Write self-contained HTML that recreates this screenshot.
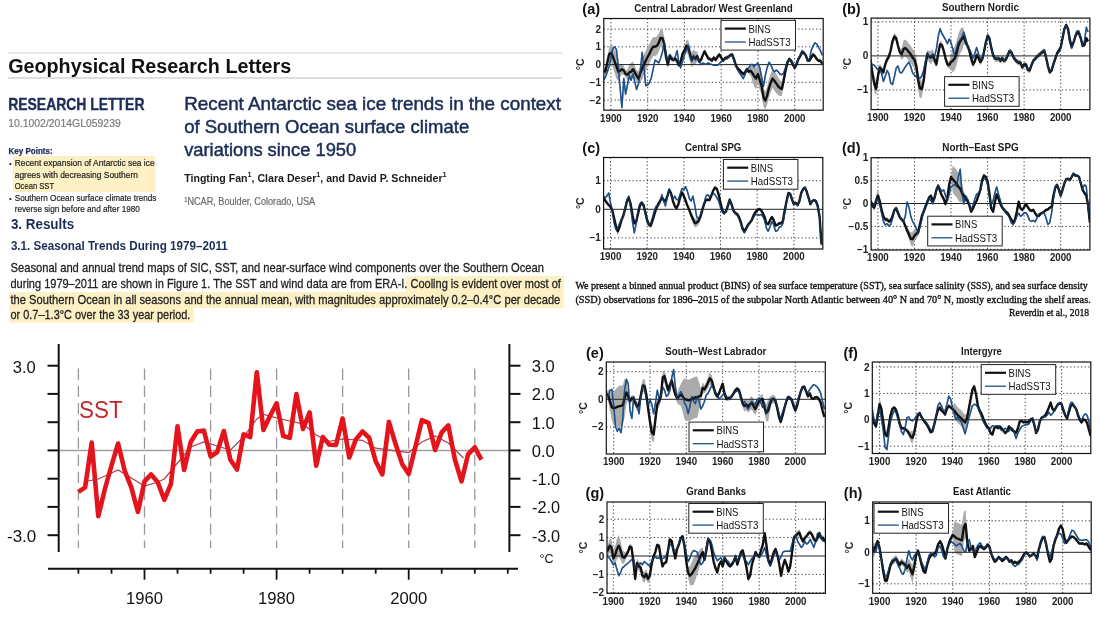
<!DOCTYPE html>
<html><head><meta charset="utf-8"><style>
html,body{margin:0;padding:0;background:#fff;width:1100px;height:628px;overflow:hidden}
svg{display:block;filter:blur(0.4px)}
</style></head><body>
<svg width="1100" height="628" viewBox="0 0 1100 628">
<rect width="1100" height="628" fill="#fff"/>
<line x1="8" y1="53" x2="562" y2="53" stroke="#cfcfcf" stroke-width="1.2"/>
<line x1="8" y1="78" x2="562" y2="78" stroke="#bdbdbd" stroke-width="1.2"/>
<text x="8.2" y="73.3" font-family='"Liberation Sans", sans-serif' font-size="20" font-weight="bold" fill="#111" text-anchor="start" textLength="283.0" lengthAdjust="spacingAndGlyphs" >Geophysical Research Letters</text>
<text x="8.2" y="110.4" font-family='"Liberation Sans", sans-serif' font-size="16.5" font-weight="bold" fill="#1b2d57" text-anchor="start" textLength="136.3" lengthAdjust="spacingAndGlyphs" stroke="#1b2d57" stroke-width="0.35" >RESEARCH LETTER</text>
<text x="8.2" y="127.3" font-family='"Liberation Sans", sans-serif' font-size="11.8" font-weight="normal" fill="#7a7a7a" text-anchor="start" textLength="112.6" lengthAdjust="spacingAndGlyphs" stroke="#7a7a7a" stroke-width="0.2" >10.1002/2014GL059239</text>
<text x="8.5" y="154.2" font-family='"Liberation Sans", sans-serif' font-size="8.5" font-weight="bold" fill="#1b2d57" text-anchor="start" textLength="44.1" lengthAdjust="spacingAndGlyphs" stroke="#1b2d57" stroke-width="0.25" >Key Points:</text>
<rect x="13" y="156" width="142.5" height="36" fill="#fcf0c4"/>
<text x="9.0" y="166.3" font-family='"Liberation Sans", sans-serif' font-size="8" font-weight="normal" fill="#222" text-anchor="start" >•</text>
<text x="14.7" y="166.3" font-family='"Liberation Sans", sans-serif' font-size="9.3" font-weight="normal" fill="#222" text-anchor="start" textLength="139.9" lengthAdjust="spacingAndGlyphs" stroke="#222" stroke-width="0.2" >Recent expansion of Antarctic sea ice</text>
<text x="14.7" y="177.9" font-family='"Liberation Sans", sans-serif' font-size="9.3" font-weight="normal" fill="#222" text-anchor="start" textLength="123.3" lengthAdjust="spacingAndGlyphs" stroke="#222" stroke-width="0.2" >agrees with decreasing Southern</text>
<text x="14.7" y="189.1" font-family='"Liberation Sans", sans-serif' font-size="9.3" font-weight="normal" fill="#222" text-anchor="start" textLength="39.4" lengthAdjust="spacingAndGlyphs" stroke="#222" stroke-width="0.2" >Ocean SST</text>
<text x="9.0" y="200.7" font-family='"Liberation Sans", sans-serif' font-size="8" font-weight="normal" fill="#222" text-anchor="start" >•</text>
<text x="14.7" y="200.7" font-family='"Liberation Sans", sans-serif' font-size="9.3" font-weight="normal" fill="#222" text-anchor="start" textLength="141.7" lengthAdjust="spacingAndGlyphs" stroke="#222" stroke-width="0.2" >Southern Ocean surface climate trends</text>
<text x="14.7" y="211.9" font-family='"Liberation Sans", sans-serif' font-size="9.3" font-weight="normal" fill="#222" text-anchor="start" textLength="125.2" lengthAdjust="spacingAndGlyphs" stroke="#222" stroke-width="0.2" >reverse sign before and after 1980</text>
<text x="10.9" y="229.0" font-family='"Liberation Sans", sans-serif' font-size="14.5" font-weight="bold" fill="#1b2d57" text-anchor="start" textLength="63.3" lengthAdjust="spacingAndGlyphs" >3. Results</text>
<text x="10.9" y="250.0" font-family='"Liberation Sans", sans-serif' font-size="12.5" font-weight="bold" fill="#1b2d57" text-anchor="start" textLength="216.8" lengthAdjust="spacingAndGlyphs" >3.1. Seasonal Trends During 1979–2011</text>
<text x="184.2" y="110.1" font-family='"Liberation Sans", sans-serif' font-size="18.5" font-weight="normal" fill="#1b2d57" text-anchor="start" textLength="376.8" lengthAdjust="spacingAndGlyphs" stroke="#1b2d57" stroke-width="0.5" >Recent Antarctic sea ice trends in the context</text>
<text x="184.2" y="133.1" font-family='"Liberation Sans", sans-serif' font-size="18.5" font-weight="normal" fill="#1b2d57" text-anchor="start" textLength="285.0" lengthAdjust="spacingAndGlyphs" stroke="#1b2d57" stroke-width="0.5" >of Southern Ocean surface climate</text>
<text x="184.2" y="156.1" font-family='"Liberation Sans", sans-serif' font-size="18.5" font-weight="normal" fill="#1b2d57" text-anchor="start" textLength="172.0" lengthAdjust="spacingAndGlyphs" stroke="#1b2d57" stroke-width="0.5" >variations since 1950</text>
<text x="184.2" y="181.6" font-family='"Liberation Sans", sans-serif' font-size="11.8" font-weight="bold" fill="#1a1a1a" text-anchor="start" textLength="262.4" lengthAdjust="spacingAndGlyphs" >Tingting Fan<tspan dy="-4.5" font-size="8">1</tspan><tspan dy="4.5">, Clara Deser</tspan><tspan dy="-4.5" font-size="8">1</tspan><tspan dy="4.5">, and David P. Schneider</tspan><tspan dy="-4.5" font-size="8">1</tspan></text>
<text x="184.2" y="205.2" font-family='"Liberation Sans", sans-serif' font-size="10.3" font-weight="normal" fill="#6a6a6a" text-anchor="start" textLength="131.0" lengthAdjust="spacingAndGlyphs" stroke="#6a6a6a" stroke-width="0.2" ><tspan dy="-3.5" font-size="6.5">1</tspan><tspan dy="3.5">NCAR, Boulder, Colorado, USA</tspan></text>
<path d="M406,276 H563.5 V308 H193.5 V322.5 H9.5 V292 H406 Z" fill="#fcf0c4"/>
<text x="10.5" y="271.6" font-family='"Liberation Sans", sans-serif' font-size="13.6" font-weight="normal" fill="#222" text-anchor="start" textLength="533.5" lengthAdjust="spacingAndGlyphs" stroke="#222" stroke-width="0.3" >Seasonal and annual trend maps of SIC, SST, and near-surface wind components over the Southern Ocean</text>
<text x="10.5" y="287.7" font-family='"Liberation Sans", sans-serif' font-size="13.6" font-weight="normal" fill="#222" text-anchor="start" textLength="550.4" lengthAdjust="spacingAndGlyphs" stroke="#222" stroke-width="0.3" >during 1979–2011 are shown in Figure 1. The SST and wind data are from ERA-I. Cooling is evident over most of</text>
<text x="10.5" y="303.5" font-family='"Liberation Sans", sans-serif' font-size="13.6" font-weight="normal" fill="#222" text-anchor="start" textLength="549.8" lengthAdjust="spacingAndGlyphs" stroke="#222" stroke-width="0.3" >the Southern Ocean in all seasons and the annual mean, with magnitudes approximately 0.2–0.4°C per decade</text>
<text x="10.5" y="319.1" font-family='"Liberation Sans", sans-serif' font-size="13.6" font-weight="normal" fill="#222" text-anchor="start" textLength="179.9" lengthAdjust="spacingAndGlyphs" stroke="#222" stroke-width="0.3" >or 0.7–1.3°C over the 33 year period.</text>
<line x1="78.4" y1="368.6" x2="78.4" y2="548" stroke="#999" stroke-width="1.3" stroke-dasharray="11.3,5.9"/>
<line x1="144.5" y1="368.6" x2="144.5" y2="548" stroke="#999" stroke-width="1.3" stroke-dasharray="11.3,5.9"/>
<line x1="210.6" y1="368.6" x2="210.6" y2="548" stroke="#999" stroke-width="1.3" stroke-dasharray="11.3,5.9"/>
<line x1="276.6" y1="368.6" x2="276.6" y2="548" stroke="#999" stroke-width="1.3" stroke-dasharray="11.3,5.9"/>
<line x1="342.6" y1="368.6" x2="342.6" y2="548" stroke="#999" stroke-width="1.3" stroke-dasharray="11.3,5.9"/>
<line x1="408.7" y1="368.6" x2="408.7" y2="548" stroke="#999" stroke-width="1.3" stroke-dasharray="11.3,5.9"/>
<line x1="474.8" y1="368.6" x2="474.8" y2="548" stroke="#999" stroke-width="1.3" stroke-dasharray="11.3,5.9"/>
<line x1="59" y1="450.5" x2="509" y2="450.5" stroke="#a0a0a0" stroke-width="1.3"/>
<line x1="58.7" y1="344" x2="58.7" y2="552" stroke="#111" stroke-width="2"/>
<line x1="509.4" y1="344" x2="509.4" y2="552" stroke="#111" stroke-width="2"/>
<line x1="47.5" y1="365.7" x2="58.7" y2="365.7" stroke="#111" stroke-width="2"/>
<line x1="509.4" y1="365.7" x2="520.5" y2="365.7" stroke="#111" stroke-width="2"/>
<line x1="47.5" y1="393.9" x2="58.7" y2="393.9" stroke="#111" stroke-width="2"/>
<line x1="509.4" y1="393.9" x2="520.5" y2="393.9" stroke="#111" stroke-width="2"/>
<line x1="47.5" y1="422.2" x2="58.7" y2="422.2" stroke="#111" stroke-width="2"/>
<line x1="509.4" y1="422.2" x2="520.5" y2="422.2" stroke="#111" stroke-width="2"/>
<line x1="47.5" y1="450.4" x2="58.7" y2="450.4" stroke="#111" stroke-width="2"/>
<line x1="509.4" y1="450.4" x2="520.5" y2="450.4" stroke="#111" stroke-width="2"/>
<line x1="47.5" y1="478.7" x2="58.7" y2="478.7" stroke="#111" stroke-width="2"/>
<line x1="509.4" y1="478.7" x2="520.5" y2="478.7" stroke="#111" stroke-width="2"/>
<line x1="47.5" y1="506.9" x2="58.7" y2="506.9" stroke="#111" stroke-width="2"/>
<line x1="509.4" y1="506.9" x2="520.5" y2="506.9" stroke="#111" stroke-width="2"/>
<line x1="47.5" y1="535.2" x2="58.7" y2="535.2" stroke="#111" stroke-width="2"/>
<line x1="509.4" y1="535.2" x2="520.5" y2="535.2" stroke="#111" stroke-width="2"/>
<text x="12.7" y="372.6" font-family='"Liberation Sans", sans-serif' font-size="17" font-weight="normal" fill="#111" text-anchor="start" textLength="23.0" lengthAdjust="spacingAndGlyphs" >3.0</text>
<text x="7.0" y="541.6" font-family='"Liberation Sans", sans-serif' font-size="17" font-weight="normal" fill="#111" text-anchor="start" textLength="29.3" lengthAdjust="spacingAndGlyphs" >-3.0</text>
<text x="531.7" y="372.0" font-family='"Liberation Sans", sans-serif' font-size="17" font-weight="normal" fill="#111" text-anchor="start" textLength="23.0" lengthAdjust="spacingAndGlyphs" >3.0</text>
<text x="531.7" y="400.2" font-family='"Liberation Sans", sans-serif' font-size="17" font-weight="normal" fill="#111" text-anchor="start" textLength="23.0" lengthAdjust="spacingAndGlyphs" >2.0</text>
<text x="531.7" y="428.5" font-family='"Liberation Sans", sans-serif' font-size="17" font-weight="normal" fill="#111" text-anchor="start" textLength="23.0" lengthAdjust="spacingAndGlyphs" >1.0</text>
<text x="531.7" y="456.8" font-family='"Liberation Sans", sans-serif' font-size="17" font-weight="normal" fill="#111" text-anchor="start" textLength="23.0" lengthAdjust="spacingAndGlyphs" >0.0</text>
<text x="532.0" y="485.0" font-family='"Liberation Sans", sans-serif' font-size="17" font-weight="normal" fill="#111" text-anchor="start" textLength="28.0" lengthAdjust="spacingAndGlyphs" >-1.0</text>
<text x="532.0" y="513.2" font-family='"Liberation Sans", sans-serif' font-size="17" font-weight="normal" fill="#111" text-anchor="start" textLength="28.0" lengthAdjust="spacingAndGlyphs" >-2.0</text>
<text x="532.0" y="541.5" font-family='"Liberation Sans", sans-serif' font-size="17" font-weight="normal" fill="#111" text-anchor="start" textLength="28.0" lengthAdjust="spacingAndGlyphs" >-3.0</text>
<text x="539.5" y="563.0" font-family='"Liberation Sans", sans-serif' font-size="12" font-weight="normal" fill="#111" text-anchor="start" textLength="14.0" lengthAdjust="spacingAndGlyphs" >°C</text>
<line x1="48" y1="568.7" x2="518" y2="568.7" stroke="#111" stroke-width="2"/>
<line x1="78.4" y1="568.7" x2="78.4" y2="573.7" stroke="#111" stroke-width="1.8"/>
<line x1="111.5" y1="568.7" x2="111.5" y2="573.7" stroke="#111" stroke-width="1.8"/>
<line x1="144.5" y1="568.7" x2="144.5" y2="579.7" stroke="#111" stroke-width="1.8"/>
<line x1="177.5" y1="568.7" x2="177.5" y2="573.7" stroke="#111" stroke-width="1.8"/>
<line x1="210.6" y1="568.7" x2="210.6" y2="573.7" stroke="#111" stroke-width="1.8"/>
<line x1="243.6" y1="568.7" x2="243.6" y2="573.7" stroke="#111" stroke-width="1.8"/>
<line x1="276.6" y1="568.7" x2="276.6" y2="579.7" stroke="#111" stroke-width="1.8"/>
<line x1="309.6" y1="568.7" x2="309.6" y2="573.7" stroke="#111" stroke-width="1.8"/>
<line x1="342.6" y1="568.7" x2="342.6" y2="573.7" stroke="#111" stroke-width="1.8"/>
<line x1="375.7" y1="568.7" x2="375.7" y2="573.7" stroke="#111" stroke-width="1.8"/>
<line x1="408.7" y1="568.7" x2="408.7" y2="579.7" stroke="#111" stroke-width="1.8"/>
<line x1="441.7" y1="568.7" x2="441.7" y2="573.7" stroke="#111" stroke-width="1.8"/>
<line x1="474.8" y1="568.7" x2="474.8" y2="573.7" stroke="#111" stroke-width="1.8"/>
<line x1="507.8" y1="568.7" x2="507.8" y2="573.7" stroke="#111" stroke-width="1.8"/>
<text x="144.5" y="604.0" font-family='"Liberation Sans", sans-serif' font-size="16.5" font-weight="normal" fill="#111" text-anchor="middle" textLength="37.0" lengthAdjust="spacingAndGlyphs" >1960</text>
<text x="276.6" y="604.0" font-family='"Liberation Sans", sans-serif' font-size="16.5" font-weight="normal" fill="#111" text-anchor="middle" textLength="37.0" lengthAdjust="spacingAndGlyphs" >1980</text>
<text x="408.7" y="604.0" font-family='"Liberation Sans", sans-serif' font-size="16.5" font-weight="normal" fill="#111" text-anchor="middle" textLength="37.0" lengthAdjust="spacingAndGlyphs" >2000</text>
<text x="79.0" y="418.0" font-family='"Liberation Sans", sans-serif' font-size="24" font-weight="normal" fill="#c0282d" text-anchor="start" textLength="43.6" lengthAdjust="spacingAndGlyphs" >SST</text>
<polyline points="85.1,481.5 98.3,479.0 118.1,470.0 131.3,478.0 144.5,486.0 157.7,482.0 164.3,479.0 177.5,463.0 190.7,447.0 203.9,442.0 217.2,446.0 230.4,450.0 243.6,437.0 256.8,419.0 263.4,414.5 276.6,417.8 289.8,421.0 303.0,423.8 316.2,435.0 329.4,441.3 342.6,439.0 362.5,440.3 375.7,448.2 395.5,450.8 408.7,452.5 421.9,442.0 435.1,436.0 448.3,443.0 463.5,458.0" fill="none" stroke="#b04050" stroke-width="1.2"/>
<polyline points="78.4,491.8 85.1,487.4 91.7,442.6 98.3,516.3 104.9,489.0 111.5,465.5 118.1,443.5 124.7,470.8 131.3,487.4 137.9,512.0 144.5,481.4 151.1,474.4 157.7,482.3 164.3,499.8 170.9,484.0 177.5,426.3 184.1,470.0 190.7,442.0 197.3,431.5 203.9,430.6 210.6,456.5 217.2,452.0 223.8,431.0 230.4,459.8 237.0,469.5 243.6,434.4 250.2,437.0 256.8,372.3 263.4,430.0 270.0,416.0 276.6,403.3 283.2,436.0 289.8,437.8 296.4,394.0 303.0,429.0 309.6,412.4 316.2,465.8 322.8,437.0 329.4,444.8 336.0,445.0 342.6,418.4 349.3,457.5 355.9,439.4 362.5,431.5 369.1,437.7 375.7,461.3 382.3,474.4 388.9,421.9 395.5,443.8 402.1,463.9 408.7,474.0 415.3,447.3 421.9,420.1 428.5,422.8 435.1,449.9 441.7,432.4 448.3,425.4 454.9,459.5 461.5,481.4 468.1,454.3 474.8,447.3 481.4,459.6" fill="none" stroke="#e3141b" stroke-width="4.6" stroke-linejoin="round"/>
<clipPath id="clipa"><rect x="603.8" y="18.5" width="219.4000000000001" height="91.7"/></clipPath>
<line x1="610.9" y1="18.5" x2="610.9" y2="110.2" stroke="#333" stroke-width="1" stroke-dasharray="1.2,2.4"/>
<line x1="647.7" y1="18.5" x2="647.7" y2="110.2" stroke="#333" stroke-width="1" stroke-dasharray="1.2,2.4"/>
<line x1="684.4" y1="18.5" x2="684.4" y2="110.2" stroke="#333" stroke-width="1" stroke-dasharray="1.2,2.4"/>
<line x1="721.2" y1="18.5" x2="721.2" y2="110.2" stroke="#333" stroke-width="1" stroke-dasharray="1.2,2.4"/>
<line x1="757.9" y1="18.5" x2="757.9" y2="110.2" stroke="#333" stroke-width="1" stroke-dasharray="1.2,2.4"/>
<line x1="794.7" y1="18.5" x2="794.7" y2="110.2" stroke="#333" stroke-width="1" stroke-dasharray="1.2,2.4"/>
<line x1="603.8" y1="100.1" x2="823.2" y2="100.1" stroke="#333" stroke-width="1" stroke-dasharray="1.2,2.4"/>
<line x1="603.8" y1="82.3" x2="823.2" y2="82.3" stroke="#333" stroke-width="1" stroke-dasharray="1.2,2.4"/>
<line x1="603.8" y1="46.8" x2="823.2" y2="46.8" stroke="#333" stroke-width="1" stroke-dasharray="1.2,2.4"/>
<line x1="603.8" y1="29.1" x2="823.2" y2="29.1" stroke="#333" stroke-width="1" stroke-dasharray="1.2,2.4"/>
<polygon points="603.5,67.4 605.4,67.7 607.2,57.7 609.1,47.4 610.9,44.0 612.7,45.4 614.6,49.9 616.4,53.8 618.3,62.4 620.1,64.6 621.9,63.9 623.8,66.0 625.6,70.5 627.4,69.4 629.3,65.3 631.1,62.8 633.0,61.5 634.8,65.9 636.6,70.3 638.5,71.5 640.3,64.2 642.1,57.9 644.0,54.1 645.8,50.4 647.7,46.7 649.5,43.7 651.3,39.9 653.2,37.1 655.0,37.2 656.9,36.5 658.7,33.6 660.5,29.0 662.4,29.1 664.2,36.4 666.0,51.5 667.9,60.9 669.7,53.9 671.6,56.9 673.4,57.7 675.2,56.1 677.1,59.0 678.9,62.8 680.7,58.9 682.6,51.0 684.4,47.9 686.3,40.5 688.1,39.4 689.9,45.8 691.8,52.4 693.6,49.5 695.4,51.3 697.3,51.5 699.1,59.3 701.0,57.9 702.8,53.1 704.6,49.2 706.5,53.1 708.3,56.3 710.2,57.0 712.0,58.6 713.8,55.4 715.7,57.9 717.5,54.7 719.3,52.4 721.2,55.4 723.0,58.6 724.9,56.3 726.7,55.4 728.5,54.7 730.4,53.1 732.2,52.4 734.0,57.0 735.9,63.2 737.7,66.4 739.6,68.0 741.4,70.3 743.2,71.9 745.1,70.3 746.9,67.1 748.8,69.6 750.6,65.8 752.4,65.3 754.3,65.7 756.1,68.3 757.9,63.9 759.8,70.5 761.6,76.3 763.5,88.3 765.3,91.8 767.1,86.8 769.0,78.9 770.8,73.2 772.6,69.2 774.5,71.5 776.3,73.7 778.2,77.6 780.0,80.0 781.8,81.8 783.7,74.0 785.5,66.6 787.3,60.9 789.2,57.0 791.0,58.6 792.9,62.5 794.7,65.7 796.5,62.6 798.4,57.1 800.2,54.1 802.1,50.2 803.9,50.9 805.7,53.2 807.6,58.1 809.4,58.8 811.2,55.6 813.1,52.6 814.9,54.2 816.8,57.3 818.6,58.9 820.4,58.9 822.3,62.1 822.3,65.7 820.4,62.5 818.6,62.5 816.8,60.9 814.9,57.9 813.1,56.4 811.2,59.4 809.4,62.6 807.6,61.9 805.7,57.1 803.9,54.8 802.1,54.2 800.2,58.1 798.4,61.1 796.5,66.6 794.7,69.9 792.9,66.7 791.0,62.8 789.2,61.2 787.3,65.1 785.5,75.0 783.7,86.4 781.8,96.0 780.0,96.0 778.2,95.3 776.3,93.2 774.5,90.7 772.6,88.1 770.8,91.8 769.0,97.2 767.1,104.9 765.3,109.5 763.5,106.6 761.6,95.2 759.8,90.0 757.9,84.1 756.1,89.0 754.3,87.0 752.4,80.9 750.6,75.8 748.8,73.8 746.9,71.3 745.1,74.5 743.2,76.1 741.4,74.5 739.6,72.2 737.7,70.6 735.9,67.4 734.0,61.2 732.2,56.6 730.4,57.3 728.5,58.9 726.7,59.6 724.9,60.5 723.0,62.8 721.2,59.6 719.3,56.6 717.5,58.9 715.7,62.1 713.8,59.6 712.0,62.8 710.2,61.2 708.3,60.5 706.5,57.3 704.6,53.4 702.8,57.3 701.0,62.1 699.1,63.5 697.3,60.7 695.4,65.5 693.6,64.1 691.8,67.5 689.9,61.4 688.1,55.4 686.3,51.1 684.4,53.2 682.6,56.2 680.7,63.9 678.9,67.8 677.1,63.8 675.2,60.7 673.4,62.2 671.6,61.3 669.7,58.2 667.9,68.3 666.0,62.1 664.2,50.6 662.4,46.8 660.5,47.0 658.7,51.9 656.9,55.1 655.0,56.1 653.2,56.3 651.3,59.5 649.5,63.5 647.7,66.9 645.8,71.0 644.0,75.1 642.1,79.2 640.3,82.0 638.5,85.7 636.6,80.9 634.8,78.9 633.0,76.9 631.1,80.6 629.3,79.5 627.4,80.0 625.6,77.6 623.8,74.9 621.9,74.5 620.1,77.0 618.3,81.0 616.4,78.6 614.6,72.9 612.7,66.7 610.9,61.8 609.1,61.6 607.2,68.3 605.4,75.7 603.5,72.8" fill="#ababab" clip-path="url(#clipa)"/>
<line x1="603.8" y1="64.6" x2="823.2" y2="64.6" stroke="#222" stroke-width="1"/>
<polyline points="603.5,80.2 605.4,77.0 607.2,72.4 609.1,66.2 610.9,58.4 612.7,49.0 614.6,46.7 616.4,49.7 618.3,66.2 620.1,88.0 621.9,107.6 623.8,78.6 625.6,94.2 627.4,85.0 629.3,75.6 631.1,80.2 633.0,74.0 634.8,81.8 636.6,89.6 638.5,83.4 640.3,72.4 642.1,52.2 644.0,67.8 645.8,85.7 647.7,85.0 649.5,82.5 651.3,77.9 653.2,69.2 655.0,60.0 656.9,61.4 658.7,63.0 660.5,58.4 662.4,52.2 664.2,42.8 666.0,53.6 667.9,61.4 669.7,54.5 671.6,56.8 673.4,60.0 675.2,56.8 677.1,50.6 678.9,63.0 680.7,67.8 682.6,61.4 684.4,55.2 686.3,50.6 688.1,45.1 689.9,55.2 691.8,61.4 693.6,55.2 695.4,60.0 697.3,57.5 699.1,60.0 701.0,64.6 702.8,63.0 704.6,63.9 706.5,63.9 708.3,63.0 710.2,63.9 712.0,64.6 713.8,65.3 715.7,65.3 717.5,65.3 719.3,63.9 721.2,61.4 723.0,60.7 724.9,58.4 726.7,59.1 728.5,56.8 730.4,56.1 732.2,55.2 734.0,60.7 735.9,66.2 737.7,70.1 739.6,73.1 741.4,75.6 743.2,78.6 745.1,74.7 746.9,69.2 748.8,67.8 750.6,64.6 752.4,64.6 754.3,66.9 756.1,64.6 757.9,63.0 759.8,67.8 761.6,77.0 763.5,86.4 765.3,75.6 767.1,67.8 769.0,62.3 770.8,64.6 772.6,69.2 774.5,71.7 776.3,70.1 778.2,71.7 780.0,74.0 781.8,74.7 783.7,73.1 785.5,67.8 787.3,61.4 789.2,59.1 791.0,60.0 792.9,63.0 794.7,66.9 796.5,63.0 798.4,58.4 800.2,55.2 802.1,50.6 803.9,52.2 805.7,55.2 807.6,61.4 809.4,59.1 811.2,50.6 813.1,45.8 814.9,42.8 816.8,44.2 818.6,47.4 820.4,50.6 822.3,55.2" fill="none" stroke="#1f5189" stroke-width="1.5" stroke-linejoin="round" clip-path="url(#clipa)"/>
<polyline points="603.5,70.1 605.4,71.7 607.2,63.0 609.1,54.5 610.9,52.9 612.7,56.1 614.6,61.4 616.4,66.2 618.3,71.7 620.1,70.8 621.9,69.2 623.8,70.5 625.6,74.0 627.4,74.7 629.3,72.4 631.1,71.7 633.0,69.2 634.8,72.4 636.6,75.6 638.5,78.6 640.3,73.1 642.1,68.5 644.0,64.6 645.8,60.7 647.7,56.8 649.5,53.6 651.3,49.7 653.2,46.7 655.0,46.7 656.9,45.8 658.7,42.8 660.5,38.0 662.4,38.0 664.2,43.5 666.0,56.8 667.9,64.6 669.7,56.1 671.6,59.1 673.4,60.0 675.2,58.4 677.1,61.4 678.9,65.3 680.7,61.4 682.6,53.6 684.4,50.6 686.3,45.8 688.1,47.4 689.9,53.6 691.8,60.0 693.6,56.8 695.4,58.4 697.3,56.1 699.1,61.4 701.0,60.0 702.8,55.2 704.6,51.3 706.5,55.2 708.3,58.4 710.2,59.1 712.0,60.7 713.8,57.5 715.7,60.0 717.5,56.8 719.3,54.5 721.2,57.5 723.0,60.7 724.9,58.4 726.7,57.5 728.5,56.8 730.4,55.2 732.2,54.5 734.0,59.1 735.9,65.3 737.7,68.5 739.6,70.1 741.4,72.4 743.2,74.0 745.1,72.4 746.9,69.2 748.8,71.7 750.6,70.8 752.4,73.1 754.3,76.3 756.1,78.6 757.9,74.0 759.8,80.2 761.6,85.7 763.5,97.4 765.3,100.6 767.1,95.8 769.0,88.0 770.8,82.5 772.6,78.6 774.5,81.1 776.3,83.4 778.2,86.4 780.0,88.0 781.8,88.9 783.7,80.2 785.5,70.8 787.3,63.0 789.2,59.1 791.0,60.7 792.9,64.6 794.7,67.8 796.5,64.6 798.4,59.1 800.2,56.1 802.1,52.2 803.9,52.9 805.7,55.2 807.6,60.0 809.4,60.7 811.2,57.5 813.1,54.5 814.9,56.1 816.8,59.1 818.6,60.7 820.4,60.7 822.3,63.9" fill="none" stroke="#111" stroke-width="2.4" stroke-linejoin="round" clip-path="url(#clipa)"/>
<polyline points="603.5,80.2 605.4,77.0 607.2,72.4 609.1,66.2 610.9,58.4 612.7,49.0 614.6,46.7 616.4,49.7 618.3,66.2 620.1,88.0 621.9,107.6 623.8,78.6 625.6,94.2 627.4,85.0 629.3,75.6 631.1,80.2 633.0,74.0 634.8,81.8 636.6,89.6 638.5,83.4 640.3,72.4 642.1,52.2 644.0,67.8 645.8,85.7 647.7,85.0 649.5,82.5 651.3,77.9 653.2,69.2 655.0,60.0 656.9,61.4 658.7,63.0 660.5,58.4 662.4,52.2 664.2,42.8 666.0,53.6 667.9,61.4 669.7,54.5 671.6,56.8 673.4,60.0 675.2,56.8 677.1,50.6 678.9,63.0 680.7,67.8 682.6,61.4 684.4,55.2 686.3,50.6 688.1,45.1 689.9,55.2 691.8,61.4 693.6,55.2 695.4,60.0 697.3,57.5 699.1,60.0 701.0,64.6 702.8,63.0 704.6,63.9 706.5,63.9 708.3,63.0 710.2,63.9 712.0,64.6 713.8,65.3 715.7,65.3 717.5,65.3 719.3,63.9 721.2,61.4 723.0,60.7 724.9,58.4 726.7,59.1 728.5,56.8 730.4,56.1 732.2,55.2 734.0,60.7 735.9,66.2 737.7,70.1 739.6,73.1 741.4,75.6 743.2,78.6 745.1,74.7 746.9,69.2 748.8,67.8 750.6,64.6 752.4,64.6 754.3,66.9 756.1,64.6 757.9,63.0 759.8,67.8 761.6,77.0 763.5,86.4 765.3,75.6 767.1,67.8 769.0,62.3 770.8,64.6 772.6,69.2 774.5,71.7 776.3,70.1 778.2,71.7 780.0,74.0 781.8,74.7 783.7,73.1 785.5,67.8 787.3,61.4 789.2,59.1 791.0,60.0 792.9,63.0 794.7,66.9 796.5,63.0 798.4,58.4 800.2,55.2 802.1,50.6 803.9,52.2 805.7,55.2 807.6,61.4 809.4,59.1 811.2,50.6 813.1,45.8 814.9,42.8 816.8,44.2 818.6,47.4 820.4,50.6 822.3,55.2" fill="none" stroke="#1f5189" stroke-opacity="0.45" stroke-width="1.5" stroke-linejoin="round" clip-path="url(#clipa)"/>
<rect x="603.8" y="18.5" width="219.4" height="91.7" fill="none" stroke="#111" stroke-width="1.2"/>
<text x="601.0" y="103.6" font-family='"Liberation Sans", sans-serif' font-size="10" font-weight="bold" fill="#222" text-anchor="end" >−2</text>
<text x="601.0" y="85.8" font-family='"Liberation Sans", sans-serif' font-size="10" font-weight="bold" fill="#222" text-anchor="end" >−1</text>
<text x="601.0" y="68.1" font-family='"Liberation Sans", sans-serif' font-size="10" font-weight="bold" fill="#222" text-anchor="end" >0</text>
<text x="601.0" y="50.3" font-family='"Liberation Sans", sans-serif' font-size="10" font-weight="bold" fill="#222" text-anchor="end" >1</text>
<text x="601.0" y="32.6" font-family='"Liberation Sans", sans-serif' font-size="10" font-weight="bold" fill="#222" text-anchor="end" >2</text>
<text x="610.9" y="121.5" font-family='"Liberation Sans", sans-serif' font-size="10" font-weight="bold" fill="#222" text-anchor="middle" textLength="21.6" lengthAdjust="spacingAndGlyphs" >1900</text>
<text x="647.7" y="121.5" font-family='"Liberation Sans", sans-serif' font-size="10" font-weight="bold" fill="#222" text-anchor="middle" textLength="21.6" lengthAdjust="spacingAndGlyphs" >1920</text>
<text x="684.4" y="121.5" font-family='"Liberation Sans", sans-serif' font-size="10" font-weight="bold" fill="#222" text-anchor="middle" textLength="21.6" lengthAdjust="spacingAndGlyphs" >1940</text>
<text x="721.2" y="121.5" font-family='"Liberation Sans", sans-serif' font-size="10" font-weight="bold" fill="#222" text-anchor="middle" textLength="21.6" lengthAdjust="spacingAndGlyphs" >1960</text>
<text x="757.9" y="121.5" font-family='"Liberation Sans", sans-serif' font-size="10" font-weight="bold" fill="#222" text-anchor="middle" textLength="21.6" lengthAdjust="spacingAndGlyphs" >1980</text>
<text x="794.7" y="121.5" font-family='"Liberation Sans", sans-serif' font-size="10" font-weight="bold" fill="#222" text-anchor="middle" textLength="21.6" lengthAdjust="spacingAndGlyphs" >2000</text>
<text x="584.0" y="64.3" transform="rotate(-90 584.0 64.3)" font-family='"Liberation Sans", sans-serif' font-size="10.5" font-weight="bold" fill="#222" text-anchor="middle">°C</text>
<text x="713.5" y="11.5" font-family='"Liberation Sans", sans-serif' font-size="10.3" font-weight="bold" fill="#1a1a1a" text-anchor="middle" textLength="158.6" lengthAdjust="spacingAndGlyphs" >Central Labrador/ West Greenland</text>
<text x="582.3" y="14.0" font-family='"Liberation Sans", sans-serif' font-size="14.5" font-weight="bold" fill="#111" text-anchor="start" >(a)</text>
<rect x="721" y="20.4" width="74.5" height="29.7" fill="#fff" stroke="#222" stroke-width="1"/>
<line x1="724.8" y1="28.6" x2="745.8" y2="28.6" stroke="#111" stroke-width="2.2"/>
<line x1="724.8" y1="42.0" x2="745.8" y2="42.0" stroke="#1f5189" stroke-width="1.3"/>
<text x="748.4" y="32.5" font-family='"Liberation Sans", sans-serif' font-size="10.3" font-weight="normal" fill="#111" text-anchor="start" textLength="22.2" lengthAdjust="spacingAndGlyphs" >BINS</text>
<text x="748.4" y="45.8" font-family='"Liberation Sans", sans-serif' font-size="10.3" font-weight="normal" fill="#111" text-anchor="start" textLength="42.2" lengthAdjust="spacingAndGlyphs" >HadSST3</text>
<clipPath id="clipb"><rect x="871.1" y="18.1" width="218.80000000000007" height="91.5"/></clipPath>
<line x1="877.9" y1="18.1" x2="877.9" y2="109.6" stroke="#333" stroke-width="1" stroke-dasharray="1.2,2.4"/>
<line x1="914.5" y1="18.1" x2="914.5" y2="109.6" stroke="#333" stroke-width="1" stroke-dasharray="1.2,2.4"/>
<line x1="951.0" y1="18.1" x2="951.0" y2="109.6" stroke="#333" stroke-width="1" stroke-dasharray="1.2,2.4"/>
<line x1="987.6" y1="18.1" x2="987.6" y2="109.6" stroke="#333" stroke-width="1" stroke-dasharray="1.2,2.4"/>
<line x1="1024.1" y1="18.1" x2="1024.1" y2="109.6" stroke="#333" stroke-width="1" stroke-dasharray="1.2,2.4"/>
<line x1="1060.7" y1="18.1" x2="1060.7" y2="109.6" stroke="#333" stroke-width="1" stroke-dasharray="1.2,2.4"/>
<line x1="871.1" y1="89.9" x2="1089.9" y2="89.9" stroke="#333" stroke-width="1" stroke-dasharray="1.2,2.4"/>
<line x1="871.1" y1="21.9" x2="1089.9" y2="21.9" stroke="#333" stroke-width="1" stroke-dasharray="1.2,2.4"/>
<polygon points="870.6,56.2 872.4,67.6 874.2,74.6 876.1,82.1 877.9,71.5 879.7,64.1 881.6,66.4 883.4,68.8 885.2,61.0 887.0,56.2 888.9,53.2 890.7,47.1 892.5,37.9 894.4,33.1 896.2,34.8 898.0,42.3 899.8,48.8 901.7,48.2 903.5,40.6 905.3,39.6 907.1,41.3 909.0,43.7 910.8,45.7 912.6,49.1 914.5,50.7 916.3,56.8 918.1,69.9 919.9,78.0 921.8,81.3 923.6,75.7 925.4,62.7 927.3,49.7 929.1,50.9 930.9,50.8 932.7,49.6 934.6,55.1 936.4,61.0 938.2,50.1 940.1,40.9 941.9,41.6 943.7,47.1 945.5,54.9 947.4,61.0 949.2,61.7 951.0,54.4 952.8,48.8 954.7,46.4 956.5,41.6 958.3,33.8 960.2,29.4 962.0,27.0 963.8,28.9 965.6,38.6 967.5,42.3 969.3,47.1 971.1,54.9 973.0,61.1 974.8,58.0 976.6,51.9 978.4,54.3 980.3,58.8 982.1,56.4 983.9,49.0 985.8,39.5 987.6,32.7 989.4,35.1 991.2,44.3 993.1,52.1 994.9,55.2 996.7,55.9 998.5,55.2 1000.4,57.6 1002.2,55.3 1004.0,57.7 1005.9,56.7 1007.7,52.3 1009.5,48.2 1011.3,49.3 1013.2,53.7 1015.0,56.8 1016.8,58.5 1018.7,59.9 1020.5,59.9 1022.3,64.7 1024.1,61.6 1026.0,61.7 1027.8,67.1 1029.6,67.8 1031.5,62.4 1033.3,58.0 1035.1,56.3 1036.9,54.0 1038.8,52.6 1040.6,51.0 1042.4,49.6 1044.2,47.9 1046.1,55.1 1047.9,63.6 1049.7,69.8 1051.6,68.1 1053.4,62.0 1055.2,56.6 1057.0,51.1 1058.9,48.1 1060.7,45.1 1062.5,35.9 1064.4,26.4 1066.2,22.7 1068.0,26.4 1069.8,37.3 1071.7,44.5 1073.5,40.4 1075.3,34.3 1077.2,29.9 1079.0,31.3 1080.8,36.1 1082.6,43.6 1084.5,42.9 1086.3,36.2 1088.1,39.2 1088.1,43.3 1086.3,40.3 1084.5,47.1 1082.6,47.8 1080.8,40.3 1079.0,35.6 1077.2,34.3 1075.3,38.7 1073.5,44.8 1071.7,48.9 1069.8,41.8 1068.0,31.0 1066.2,27.2 1064.4,31.0 1062.5,40.5 1060.7,49.7 1058.9,52.8 1057.0,55.9 1055.2,61.4 1053.4,66.8 1051.6,73.0 1049.7,74.7 1047.9,68.6 1046.1,60.1 1044.2,53.0 1042.4,54.7 1040.6,56.1 1038.8,57.8 1036.9,59.2 1035.1,61.6 1033.3,63.3 1031.5,67.7 1029.6,73.2 1027.8,72.5 1026.0,67.1 1024.1,67.2 1022.3,70.2 1020.5,65.5 1018.7,65.5 1016.8,64.2 1015.0,62.5 1013.2,59.5 1011.3,55.1 1009.5,54.1 1007.7,58.2 1005.9,62.6 1004.0,63.6 1002.2,61.3 1000.4,63.7 998.5,61.3 996.7,62.0 994.9,61.4 993.1,58.3 991.2,50.5 989.4,41.4 987.6,39.0 985.8,45.8 983.9,55.4 982.1,62.9 980.3,65.3 978.4,60.9 976.6,58.5 974.8,64.6 973.0,67.7 971.1,61.6 969.3,53.8 967.5,49.1 965.6,45.4 963.8,44.2 962.0,50.8 960.2,53.2 958.3,57.6 956.5,65.4 954.7,70.2 952.8,72.6 951.0,69.7 949.2,68.5 947.4,67.8 945.5,61.7 943.7,53.9 941.9,48.4 940.1,47.7 938.2,56.9 936.4,67.8 934.6,64.2 932.7,60.9 930.9,64.4 929.1,62.2 927.3,58.7 925.4,69.5 923.6,87.1 921.8,97.2 919.9,98.4 918.1,89.5 916.3,75.4 914.5,68.6 912.6,66.1 910.8,62.7 909.0,60.7 907.1,58.3 905.3,56.6 903.5,57.6 901.7,60.1 899.8,55.6 898.0,49.1 896.2,41.6 894.4,39.9 892.5,44.7 890.7,53.9 888.9,60.0 887.0,63.0 885.2,67.8 883.4,75.6 881.6,73.2 879.7,70.9 877.9,81.7 876.1,95.7 874.2,91.6 872.4,79.5 870.6,63.0" fill="#ababab" clip-path="url(#clipb)"/>
<line x1="871.1" y1="55.9" x2="1089.9" y2="55.9" stroke="#222" stroke-width="1"/>
<polyline points="870.6,66.1 872.4,64.4 874.2,65.1 876.1,67.5 877.9,69.8 879.7,69.2 881.6,73.6 883.4,81.4 885.2,76.6 887.0,70.5 888.9,73.6 890.7,83.1 892.5,84.5 894.4,76.6 896.2,68.1 898.0,66.1 899.8,72.2 901.7,72.9 903.5,69.8 905.3,66.8 907.1,64.4 909.0,62.0 910.8,66.8 912.6,72.9 914.5,75.3 916.3,76.6 918.1,78.3 919.9,78.3 921.8,76.0 923.6,70.5 925.4,61.3 927.3,52.8 929.1,56.6 930.9,57.6 932.7,54.2 934.6,55.9 936.4,49.1 938.2,36.5 940.1,28.7 941.9,33.5 943.7,36.5 945.5,39.6 947.4,43.7 949.2,38.9 951.0,42.6 952.8,49.1 954.7,55.2 956.5,49.1 958.3,42.6 960.2,39.6 962.0,37.2 963.8,32.1 965.6,38.2 967.5,45.7 969.3,49.1 971.1,52.8 973.0,58.3 974.8,53.5 976.6,47.4 978.4,53.5 980.3,58.3 982.1,59.0 983.9,52.8 985.8,42.6 987.6,37.2 989.4,38.9 991.2,47.4 993.1,55.9 994.9,59.0 996.7,58.3 998.5,59.0 1000.4,60.0 1002.2,57.6 1004.0,60.7 1005.9,59.0 1007.7,54.5 1009.5,51.1 1011.3,52.5 1013.2,56.6 1015.0,59.3 1016.8,60.7 1018.7,62.0 1020.5,62.0 1022.3,66.1 1024.1,66.1 1026.0,66.1 1027.8,68.8 1029.6,69.5 1031.5,64.4 1033.3,60.7 1035.1,59.0 1036.9,56.6 1038.8,55.2 1040.6,53.5 1042.4,52.2 1044.2,50.5 1046.1,57.6 1047.9,65.4 1049.7,71.2 1051.6,69.5 1053.4,63.4 1055.2,58.3 1057.0,54.2 1058.9,52.2 1060.7,48.4 1062.5,38.9 1064.4,28.7 1066.2,25.0 1068.0,30.4 1069.8,42.3 1071.7,48.4 1073.5,42.6 1075.3,35.5 1077.2,31.1 1079.0,31.1 1080.8,38.2 1082.6,45.7 1084.5,41.3 1086.3,27.3 1088.1,32.1" fill="none" stroke="#1f5189" stroke-width="1.5" stroke-linejoin="round" clip-path="url(#clipb)"/>
<polyline points="870.6,59.6 872.4,73.6 874.2,83.1 876.1,88.9 877.9,76.6 879.7,67.5 881.6,69.8 883.4,72.2 885.2,64.4 887.0,59.6 888.9,56.6 890.7,50.5 892.5,41.3 894.4,36.5 896.2,38.2 898.0,45.7 899.8,52.2 901.7,54.2 903.5,49.1 905.3,48.1 907.1,49.8 909.0,52.2 910.8,54.2 912.6,57.6 914.5,59.6 916.3,66.1 918.1,79.7 919.9,88.2 921.8,89.2 923.6,81.4 925.4,66.1 927.3,54.2 929.1,56.6 930.9,57.6 932.7,55.2 934.6,59.6 936.4,64.4 938.2,53.5 940.1,44.3 941.9,45.0 943.7,50.5 945.5,58.3 947.4,64.4 949.2,65.1 951.0,62.0 952.8,60.7 954.7,58.3 956.5,53.5 958.3,45.7 960.2,41.3 962.0,38.9 963.8,36.5 965.6,42.0 967.5,45.7 969.3,50.5 971.1,58.3 973.0,64.4 974.8,61.3 976.6,55.2 978.4,57.6 980.3,62.0 982.1,59.6 983.9,52.2 985.8,42.6 987.6,35.8 989.4,38.2 991.2,47.4 993.1,55.2 994.9,58.3 996.7,59.0 998.5,58.3 1000.4,60.7 1002.2,58.3 1004.0,60.7 1005.9,59.6 1007.7,55.2 1009.5,51.1 1011.3,52.2 1013.2,56.6 1015.0,59.6 1016.8,61.3 1018.7,62.7 1020.5,62.7 1022.3,67.5 1024.1,64.4 1026.0,64.4 1027.8,69.8 1029.6,70.5 1031.5,65.1 1033.3,60.7 1035.1,59.0 1036.9,56.6 1038.8,55.2 1040.6,53.5 1042.4,52.2 1044.2,50.5 1046.1,57.6 1047.9,66.1 1049.7,72.2 1051.6,70.5 1053.4,64.4 1055.2,59.0 1057.0,53.5 1058.9,50.5 1060.7,47.4 1062.5,38.2 1064.4,28.7 1066.2,25.0 1068.0,28.7 1069.8,39.6 1071.7,46.7 1073.5,42.6 1075.3,36.5 1077.2,32.1 1079.0,33.5 1080.8,38.2 1082.6,45.7 1084.5,45.0 1086.3,38.2 1088.1,41.3" fill="none" stroke="#111" stroke-width="2.4" stroke-linejoin="round" clip-path="url(#clipb)"/>
<polyline points="870.6,66.1 872.4,64.4 874.2,65.1 876.1,67.5 877.9,69.8 879.7,69.2 881.6,73.6 883.4,81.4 885.2,76.6 887.0,70.5 888.9,73.6 890.7,83.1 892.5,84.5 894.4,76.6 896.2,68.1 898.0,66.1 899.8,72.2 901.7,72.9 903.5,69.8 905.3,66.8 907.1,64.4 909.0,62.0 910.8,66.8 912.6,72.9 914.5,75.3 916.3,76.6 918.1,78.3 919.9,78.3 921.8,76.0 923.6,70.5 925.4,61.3 927.3,52.8 929.1,56.6 930.9,57.6 932.7,54.2 934.6,55.9 936.4,49.1 938.2,36.5 940.1,28.7 941.9,33.5 943.7,36.5 945.5,39.6 947.4,43.7 949.2,38.9 951.0,42.6 952.8,49.1 954.7,55.2 956.5,49.1 958.3,42.6 960.2,39.6 962.0,37.2 963.8,32.1 965.6,38.2 967.5,45.7 969.3,49.1 971.1,52.8 973.0,58.3 974.8,53.5 976.6,47.4 978.4,53.5 980.3,58.3 982.1,59.0 983.9,52.8 985.8,42.6 987.6,37.2 989.4,38.9 991.2,47.4 993.1,55.9 994.9,59.0 996.7,58.3 998.5,59.0 1000.4,60.0 1002.2,57.6 1004.0,60.7 1005.9,59.0 1007.7,54.5 1009.5,51.1 1011.3,52.5 1013.2,56.6 1015.0,59.3 1016.8,60.7 1018.7,62.0 1020.5,62.0 1022.3,66.1 1024.1,66.1 1026.0,66.1 1027.8,68.8 1029.6,69.5 1031.5,64.4 1033.3,60.7 1035.1,59.0 1036.9,56.6 1038.8,55.2 1040.6,53.5 1042.4,52.2 1044.2,50.5 1046.1,57.6 1047.9,65.4 1049.7,71.2 1051.6,69.5 1053.4,63.4 1055.2,58.3 1057.0,54.2 1058.9,52.2 1060.7,48.4 1062.5,38.9 1064.4,28.7 1066.2,25.0 1068.0,30.4 1069.8,42.3 1071.7,48.4 1073.5,42.6 1075.3,35.5 1077.2,31.1 1079.0,31.1 1080.8,38.2 1082.6,45.7 1084.5,41.3 1086.3,27.3 1088.1,32.1" fill="none" stroke="#1f5189" stroke-opacity="0.45" stroke-width="1.5" stroke-linejoin="round" clip-path="url(#clipb)"/>
<rect x="871.1" y="18.1" width="218.8" height="91.5" fill="none" stroke="#111" stroke-width="1.2"/>
<text x="868.3" y="93.4" font-family='"Liberation Sans", sans-serif' font-size="10" font-weight="bold" fill="#222" text-anchor="end" >−1</text>
<text x="868.3" y="59.4" font-family='"Liberation Sans", sans-serif' font-size="10" font-weight="bold" fill="#222" text-anchor="end" >0</text>
<text x="868.3" y="25.4" font-family='"Liberation Sans", sans-serif' font-size="10" font-weight="bold" fill="#222" text-anchor="end" >1</text>
<text x="877.9" y="120.9" font-family='"Liberation Sans", sans-serif' font-size="10" font-weight="bold" fill="#222" text-anchor="middle" textLength="21.6" lengthAdjust="spacingAndGlyphs" >1900</text>
<text x="914.5" y="120.9" font-family='"Liberation Sans", sans-serif' font-size="10" font-weight="bold" fill="#222" text-anchor="middle" textLength="21.6" lengthAdjust="spacingAndGlyphs" >1920</text>
<text x="951.0" y="120.9" font-family='"Liberation Sans", sans-serif' font-size="10" font-weight="bold" fill="#222" text-anchor="middle" textLength="21.6" lengthAdjust="spacingAndGlyphs" >1940</text>
<text x="987.6" y="120.9" font-family='"Liberation Sans", sans-serif' font-size="10" font-weight="bold" fill="#222" text-anchor="middle" textLength="21.6" lengthAdjust="spacingAndGlyphs" >1960</text>
<text x="1024.1" y="120.9" font-family='"Liberation Sans", sans-serif' font-size="10" font-weight="bold" fill="#222" text-anchor="middle" textLength="21.6" lengthAdjust="spacingAndGlyphs" >1980</text>
<text x="1060.7" y="120.9" font-family='"Liberation Sans", sans-serif' font-size="10" font-weight="bold" fill="#222" text-anchor="middle" textLength="21.6" lengthAdjust="spacingAndGlyphs" >2000</text>
<text x="851.3" y="63.8" transform="rotate(-90 851.3 63.8)" font-family='"Liberation Sans", sans-serif' font-size="10.5" font-weight="bold" fill="#222" text-anchor="middle">°C</text>
<text x="980.5" y="11.1" font-family='"Liberation Sans", sans-serif' font-size="10.3" font-weight="bold" fill="#1a1a1a" text-anchor="middle" textLength="77.1" lengthAdjust="spacingAndGlyphs" >Southern Nordic</text>
<text x="842.2" y="13.6" font-family='"Liberation Sans", sans-serif' font-size="14.5" font-weight="bold" fill="#111" text-anchor="start" >(b)</text>
<rect x="944.6" y="76.6" width="74.5" height="29.7" fill="#fff" stroke="#222" stroke-width="1"/>
<line x1="948.4" y1="84.8" x2="969.4" y2="84.8" stroke="#111" stroke-width="2.2"/>
<line x1="948.4" y1="98.2" x2="969.4" y2="98.2" stroke="#1f5189" stroke-width="1.3"/>
<text x="972.0" y="88.7" font-family='"Liberation Sans", sans-serif' font-size="10.3" font-weight="normal" fill="#111" text-anchor="start" textLength="22.2" lengthAdjust="spacingAndGlyphs" >BINS</text>
<text x="972.0" y="102.0" font-family='"Liberation Sans", sans-serif' font-size="10.3" font-weight="normal" fill="#111" text-anchor="start" textLength="42.2" lengthAdjust="spacingAndGlyphs" >HadSST3</text>
<clipPath id="clipc"><rect x="603.6" y="157.5" width="219.19999999999993" height="91.5"/></clipPath>
<line x1="610.5" y1="157.5" x2="610.5" y2="249" stroke="#333" stroke-width="1" stroke-dasharray="1.2,2.4"/>
<line x1="647.2" y1="157.5" x2="647.2" y2="249" stroke="#333" stroke-width="1" stroke-dasharray="1.2,2.4"/>
<line x1="683.9" y1="157.5" x2="683.9" y2="249" stroke="#333" stroke-width="1" stroke-dasharray="1.2,2.4"/>
<line x1="720.5" y1="157.5" x2="720.5" y2="249" stroke="#333" stroke-width="1" stroke-dasharray="1.2,2.4"/>
<line x1="757.2" y1="157.5" x2="757.2" y2="249" stroke="#333" stroke-width="1" stroke-dasharray="1.2,2.4"/>
<line x1="793.9" y1="157.5" x2="793.9" y2="249" stroke="#333" stroke-width="1" stroke-dasharray="1.2,2.4"/>
<line x1="603.6" y1="237.9" x2="822.8" y2="237.9" stroke="#333" stroke-width="1" stroke-dasharray="1.2,2.4"/>
<line x1="603.6" y1="180.7" x2="822.8" y2="180.7" stroke="#333" stroke-width="1" stroke-dasharray="1.2,2.4"/>
<polygon points="603.2,196.1 605.0,198.3 606.8,200.8 608.7,203.0 610.5,204.6 612.3,208.3 614.2,216.2 616.0,223.2 617.8,227.0 619.7,223.5 621.5,218.5 623.3,213.6 625.2,207.3 627.0,199.3 628.8,196.1 630.7,202.4 632.5,213.6 634.3,221.6 636.2,219.9 638.0,212.2 639.8,204.2 641.7,201.0 643.5,203.3 645.3,210.4 647.2,218.5 649.0,223.0 650.8,222.7 652.7,218.0 654.5,212.4 656.4,206.7 658.2,202.7 660.0,199.5 661.9,196.4 663.7,198.6 665.5,199.5 667.4,194.6 669.2,188.3 671.0,191.4 672.9,199.4 674.7,204.3 676.5,206.5 678.4,202.5 680.2,195.3 682.0,190.8 683.9,194.5 685.7,199.3 687.5,204.2 689.4,207.9 691.2,211.9 693.0,215.0 694.9,219.0 696.7,218.2 698.5,216.7 700.4,214.0 702.2,208.7 704.0,202.4 705.9,198.4 707.7,197.9 709.5,198.5 711.4,193.9 713.2,189.0 715.0,185.9 716.9,187.3 718.7,193.1 720.5,201.1 722.4,208.8 724.2,211.4 726.0,209.7 727.9,204.3 729.7,198.0 731.5,202.6 733.4,208.9 735.2,211.5 737.0,212.3 738.9,215.5 740.7,220.1 742.5,226.7 744.4,229.8 746.2,226.7 748.0,223.2 749.9,221.0 751.7,218.7 753.6,213.8 755.4,210.7 757.2,209.0 759.1,207.6 760.9,208.4 762.7,211.6 764.6,215.6 766.4,221.9 768.2,222.8 770.1,218.8 771.9,215.6 773.7,218.8 775.6,224.2 777.4,223.4 779.2,222.0 781.1,222.0 782.9,219.7 784.7,209.1 786.6,199.7 788.4,191.7 790.2,192.6 792.1,198.3 793.9,202.9 795.7,201.5 797.6,203.8 799.4,199.8 801.2,191.8 803.1,187.8 804.9,186.3 806.7,190.4 808.6,196.7 810.4,203.0 812.2,199.8 814.1,199.0 815.9,199.8 817.7,204.7 819.6,215.3 821.4,242.5 821.4,244.8 819.6,217.6 817.7,207.0 815.9,202.2 814.1,201.3 812.2,202.2 810.4,205.3 808.6,199.1 806.7,192.8 804.9,188.8 803.1,190.2 801.2,194.2 799.4,202.3 797.6,206.3 795.7,204.0 793.9,205.4 792.1,200.9 790.2,195.1 788.4,194.3 786.6,202.3 784.7,211.8 782.9,222.4 781.1,224.7 779.2,224.7 777.4,226.1 775.6,227.0 773.7,221.5 771.9,218.4 770.1,221.6 768.2,225.6 766.4,224.7 764.6,218.4 762.7,214.4 760.9,211.3 759.1,210.5 757.2,211.9 755.4,213.6 753.6,216.8 751.7,221.6 749.9,223.9 748.0,226.2 746.2,229.7 744.4,232.8 742.5,229.7 740.7,223.1 738.9,218.6 737.0,215.4 735.2,214.6 733.4,212.0 731.5,205.7 729.7,201.2 727.9,207.5 726.0,212.9 724.2,214.6 722.4,212.1 720.5,204.4 718.7,196.4 716.9,190.6 715.0,189.2 713.2,192.4 711.4,197.2 709.5,201.8 707.7,201.3 705.9,201.8 704.0,205.9 702.2,212.2 700.4,220.0 698.5,225.3 696.7,226.7 694.9,227.6 693.0,223.6 691.2,218.7 689.4,213.0 687.5,207.6 685.7,202.7 683.9,197.8 682.0,194.1 680.2,198.7 678.4,205.8 676.5,209.8 674.7,207.5 672.9,202.6 671.0,194.6 669.2,191.4 667.4,197.7 665.5,202.5 663.7,201.7 661.9,199.4 660.0,202.5 658.2,205.6 656.4,209.6 654.5,215.3 652.7,222.3 650.8,228.5 649.0,226.5 647.2,221.9 645.3,213.9 643.5,206.7 641.7,204.4 639.8,207.6 638.0,215.6 636.2,223.3 634.3,225.0 632.5,217.0 630.7,205.9 628.8,199.6 627.0,202.7 625.2,210.7 623.3,217.0 621.5,221.9 619.7,229.5 617.8,235.6 616.0,229.7 614.2,220.7 612.3,212.6 610.5,208.8 608.7,207.0 606.8,204.6 605.0,202.0 603.2,199.6" fill="#ababab" clip-path="url(#clipc)"/>
<line x1="603.6" y1="209.3" x2="822.8" y2="209.3" stroke="#222" stroke-width="1"/>
<polyline points="603.2,196.1 605.0,197.9 606.8,196.1 608.7,193.0 610.5,202.7 612.3,210.4 614.2,223.3 616.0,229.6 617.8,228.2 619.7,223.3 621.5,219.3 623.3,217.0 625.2,207.3 627.0,199.6 628.8,196.1 630.7,207.3 632.5,221.6 634.3,232.8 636.2,223.3 638.0,210.4 639.8,204.2 641.7,201.9 643.5,205.9 645.3,213.9 647.2,221.6 649.0,225.6 650.8,223.3 652.7,217.0 654.5,210.4 656.4,205.9 658.2,205.9 660.0,202.7 661.9,194.7 663.7,201.0 665.5,205.9 667.4,196.1 669.2,189.0 671.0,194.7 672.9,199.6 674.7,196.1 676.5,199.6 678.4,200.1 680.2,193.9 682.0,188.4 683.9,189.9 685.7,186.7 687.5,191.6 689.4,198.7 691.2,201.0 693.0,196.1 694.9,205.9 696.7,217.0 698.5,218.5 700.4,215.3 702.2,209.0 704.0,204.2 705.9,196.1 707.7,194.7 709.5,197.0 711.4,194.7 713.2,193.0 715.0,194.7 716.9,197.9 718.7,201.0 720.5,207.3 722.4,212.2 724.2,213.9 726.0,210.4 727.9,204.2 729.7,199.6 731.5,204.7 733.4,211.0 735.2,213.6 737.0,215.0 738.9,218.5 740.7,223.6 742.5,229.9 744.4,232.8 746.2,229.3 748.0,225.9 749.9,223.3 751.7,220.2 753.6,217.0 755.4,214.4 757.2,214.4 759.1,215.3 760.9,214.4 762.7,216.2 764.6,220.2 766.4,228.2 768.2,231.3 770.1,226.5 771.9,221.6 773.7,224.7 775.6,231.3 777.4,230.5 779.2,227.3 781.1,226.5 782.9,223.3 784.7,212.2 786.6,201.6 788.4,193.6 790.2,194.4 792.1,200.1 793.9,204.7 795.7,203.3 797.6,205.6 799.4,201.6 801.2,193.6 803.1,189.3 804.9,188.1 806.7,192.1 808.6,198.4 810.4,204.4 812.2,201.6 814.1,200.7 815.9,201.6 817.7,206.4 819.6,217.3 821.4,245.1" fill="none" stroke="#1f5189" stroke-width="1.5" stroke-linejoin="round" clip-path="url(#clipc)"/>
<polyline points="603.2,197.9 605.0,200.1 606.8,202.7 608.7,205.0 610.5,206.7 612.3,210.4 614.2,218.5 616.0,226.5 617.8,231.3 619.7,226.5 621.5,220.2 623.3,215.3 625.2,209.0 627.0,201.0 628.8,197.9 630.7,204.2 632.5,215.3 634.3,223.3 636.2,221.6 638.0,213.9 639.8,205.9 641.7,202.7 643.5,205.0 645.3,212.2 647.2,220.2 649.0,224.7 650.8,225.6 652.7,220.2 654.5,213.9 656.4,208.2 658.2,204.2 660.0,201.0 661.9,197.9 663.7,200.1 665.5,201.0 667.4,196.1 669.2,189.9 671.0,193.0 672.9,201.0 674.7,205.9 676.5,208.2 678.4,204.2 680.2,197.0 682.0,192.4 683.9,196.1 685.7,201.0 687.5,205.9 689.4,210.4 691.2,215.3 693.0,219.3 694.9,223.3 696.7,222.5 698.5,221.0 700.4,217.0 702.2,210.4 704.0,204.2 705.9,200.1 707.7,199.6 709.5,200.1 711.4,195.6 713.2,190.7 715.0,187.6 716.9,189.0 718.7,194.7 720.5,202.7 722.4,210.4 724.2,213.0 726.0,211.3 727.9,205.9 729.7,199.6 731.5,204.2 733.4,210.4 735.2,213.0 737.0,213.9 738.9,217.0 740.7,221.6 742.5,228.2 744.4,231.3 746.2,228.2 748.0,224.7 749.9,222.5 751.7,220.2 753.6,215.3 755.4,212.2 757.2,210.4 759.1,209.0 760.9,209.9 762.7,213.0 764.6,217.0 766.4,223.3 768.2,224.2 770.1,220.2 771.9,217.0 773.7,220.2 775.6,225.6 777.4,224.7 779.2,223.3 781.1,223.3 782.9,221.0 784.7,210.4 786.6,201.0 788.4,193.0 790.2,193.9 792.1,199.6 793.9,204.2 795.7,202.7 797.6,205.0 799.4,201.0 801.2,193.0 803.1,189.0 804.9,187.6 806.7,191.6 808.6,197.9 810.4,204.2 812.2,201.0 814.1,200.1 815.9,201.0 817.7,205.9 819.6,216.5 821.4,243.6" fill="none" stroke="#111" stroke-width="2.4" stroke-linejoin="round" clip-path="url(#clipc)"/>
<polyline points="603.2,196.1 605.0,197.9 606.8,196.1 608.7,193.0 610.5,202.7 612.3,210.4 614.2,223.3 616.0,229.6 617.8,228.2 619.7,223.3 621.5,219.3 623.3,217.0 625.2,207.3 627.0,199.6 628.8,196.1 630.7,207.3 632.5,221.6 634.3,232.8 636.2,223.3 638.0,210.4 639.8,204.2 641.7,201.9 643.5,205.9 645.3,213.9 647.2,221.6 649.0,225.6 650.8,223.3 652.7,217.0 654.5,210.4 656.4,205.9 658.2,205.9 660.0,202.7 661.9,194.7 663.7,201.0 665.5,205.9 667.4,196.1 669.2,189.0 671.0,194.7 672.9,199.6 674.7,196.1 676.5,199.6 678.4,200.1 680.2,193.9 682.0,188.4 683.9,189.9 685.7,186.7 687.5,191.6 689.4,198.7 691.2,201.0 693.0,196.1 694.9,205.9 696.7,217.0 698.5,218.5 700.4,215.3 702.2,209.0 704.0,204.2 705.9,196.1 707.7,194.7 709.5,197.0 711.4,194.7 713.2,193.0 715.0,194.7 716.9,197.9 718.7,201.0 720.5,207.3 722.4,212.2 724.2,213.9 726.0,210.4 727.9,204.2 729.7,199.6 731.5,204.7 733.4,211.0 735.2,213.6 737.0,215.0 738.9,218.5 740.7,223.6 742.5,229.9 744.4,232.8 746.2,229.3 748.0,225.9 749.9,223.3 751.7,220.2 753.6,217.0 755.4,214.4 757.2,214.4 759.1,215.3 760.9,214.4 762.7,216.2 764.6,220.2 766.4,228.2 768.2,231.3 770.1,226.5 771.9,221.6 773.7,224.7 775.6,231.3 777.4,230.5 779.2,227.3 781.1,226.5 782.9,223.3 784.7,212.2 786.6,201.6 788.4,193.6 790.2,194.4 792.1,200.1 793.9,204.7 795.7,203.3 797.6,205.6 799.4,201.6 801.2,193.6 803.1,189.3 804.9,188.1 806.7,192.1 808.6,198.4 810.4,204.4 812.2,201.6 814.1,200.7 815.9,201.6 817.7,206.4 819.6,217.3 821.4,245.1" fill="none" stroke="#1f5189" stroke-opacity="0.45" stroke-width="1.5" stroke-linejoin="round" clip-path="url(#clipc)"/>
<rect x="603.6" y="157.5" width="219.2" height="91.5" fill="none" stroke="#111" stroke-width="1.2"/>
<text x="600.8" y="241.4" font-family='"Liberation Sans", sans-serif' font-size="10" font-weight="bold" fill="#222" text-anchor="end" >−1</text>
<text x="600.8" y="212.8" font-family='"Liberation Sans", sans-serif' font-size="10" font-weight="bold" fill="#222" text-anchor="end" >0</text>
<text x="600.8" y="184.2" font-family='"Liberation Sans", sans-serif' font-size="10" font-weight="bold" fill="#222" text-anchor="end" >1</text>
<text x="610.5" y="260.3" font-family='"Liberation Sans", sans-serif' font-size="10" font-weight="bold" fill="#222" text-anchor="middle" textLength="21.6" lengthAdjust="spacingAndGlyphs" >1900</text>
<text x="647.2" y="260.3" font-family='"Liberation Sans", sans-serif' font-size="10" font-weight="bold" fill="#222" text-anchor="middle" textLength="21.6" lengthAdjust="spacingAndGlyphs" >1920</text>
<text x="683.9" y="260.3" font-family='"Liberation Sans", sans-serif' font-size="10" font-weight="bold" fill="#222" text-anchor="middle" textLength="21.6" lengthAdjust="spacingAndGlyphs" >1940</text>
<text x="720.5" y="260.3" font-family='"Liberation Sans", sans-serif' font-size="10" font-weight="bold" fill="#222" text-anchor="middle" textLength="21.6" lengthAdjust="spacingAndGlyphs" >1960</text>
<text x="757.2" y="260.3" font-family='"Liberation Sans", sans-serif' font-size="10" font-weight="bold" fill="#222" text-anchor="middle" textLength="21.6" lengthAdjust="spacingAndGlyphs" >1980</text>
<text x="793.9" y="260.3" font-family='"Liberation Sans", sans-serif' font-size="10" font-weight="bold" fill="#222" text-anchor="middle" textLength="21.6" lengthAdjust="spacingAndGlyphs" >2000</text>
<text x="583.8" y="203.2" transform="rotate(-90 583.8 203.2)" font-family='"Liberation Sans", sans-serif' font-size="10.5" font-weight="bold" fill="#222" text-anchor="middle">°C</text>
<text x="713.2" y="150.5" font-family='"Liberation Sans", sans-serif' font-size="10.3" font-weight="bold" fill="#1a1a1a" text-anchor="middle" textLength="56.4" lengthAdjust="spacingAndGlyphs" >Central SPG</text>
<text x="582.3" y="153.0" font-family='"Liberation Sans", sans-serif' font-size="14.5" font-weight="bold" fill="#111" text-anchor="start" >(c)</text>
<rect x="723.4" y="159.5" width="74.5" height="29.7" fill="#fff" stroke="#222" stroke-width="1"/>
<line x1="727.2" y1="167.7" x2="748.2" y2="167.7" stroke="#111" stroke-width="2.2"/>
<line x1="727.2" y1="181.1" x2="748.2" y2="181.1" stroke="#1f5189" stroke-width="1.3"/>
<text x="750.8" y="171.6" font-family='"Liberation Sans", sans-serif' font-size="10.3" font-weight="normal" fill="#111" text-anchor="start" textLength="22.2" lengthAdjust="spacingAndGlyphs" >BINS</text>
<text x="750.8" y="184.9" font-family='"Liberation Sans", sans-serif' font-size="10.3" font-weight="normal" fill="#111" text-anchor="start" textLength="42.2" lengthAdjust="spacingAndGlyphs" >HadSST3</text>
<clipPath id="clipd"><rect x="871.1" y="157.7" width="218.80000000000007" height="92.30000000000001"/></clipPath>
<line x1="877.9" y1="157.7" x2="877.9" y2="250" stroke="#333" stroke-width="1" stroke-dasharray="1.2,2.4"/>
<line x1="914.5" y1="157.7" x2="914.5" y2="250" stroke="#333" stroke-width="1" stroke-dasharray="1.2,2.4"/>
<line x1="951.0" y1="157.7" x2="951.0" y2="250" stroke="#333" stroke-width="1" stroke-dasharray="1.2,2.4"/>
<line x1="987.6" y1="157.7" x2="987.6" y2="250" stroke="#333" stroke-width="1" stroke-dasharray="1.2,2.4"/>
<line x1="1024.1" y1="157.7" x2="1024.1" y2="250" stroke="#333" stroke-width="1" stroke-dasharray="1.2,2.4"/>
<line x1="1060.7" y1="157.7" x2="1060.7" y2="250" stroke="#333" stroke-width="1" stroke-dasharray="1.2,2.4"/>
<line x1="871.1" y1="249.3" x2="1089.9" y2="249.3" stroke="#333" stroke-width="1" stroke-dasharray="1.2,2.4"/>
<line x1="871.1" y1="226.4" x2="1089.9" y2="226.4" stroke="#333" stroke-width="1" stroke-dasharray="1.2,2.4"/>
<line x1="871.1" y1="180.6" x2="1089.9" y2="180.6" stroke="#333" stroke-width="1" stroke-dasharray="1.2,2.4"/>
<line x1="871.1" y1="157.7" x2="1089.9" y2="157.7" stroke="#333" stroke-width="1" stroke-dasharray="1.2,2.4"/>
<polygon points="870.6,198.5 872.4,202.4 874.2,204.0 876.1,195.5 877.9,188.8 879.7,196.2 881.6,207.6 883.4,214.0 885.2,217.2 887.0,217.2 888.9,219.1 890.7,218.2 892.5,214.0 894.4,207.6 896.2,206.2 898.0,210.8 899.8,214.9 901.7,217.2 903.5,219.1 905.3,223.7 907.1,227.1 909.0,230.1 910.8,232.6 912.6,231.4 914.5,229.1 916.3,228.7 918.1,228.7 919.9,221.8 921.8,214.5 923.6,209.9 925.4,205.3 927.3,200.2 929.1,195.6 930.9,193.7 932.7,198.7 934.6,195.5 936.4,187.7 938.2,183.5 940.1,189.0 941.9,193.6 943.7,196.7 945.5,201.8 947.4,195.3 949.2,182.5 951.0,174.6 952.8,165.5 954.7,167.8 956.5,169.6 958.3,172.8 960.2,175.1 962.0,183.8 963.8,191.1 965.6,195.7 967.5,198.9 969.3,203.5 971.1,209.9 973.0,206.7 974.8,202.2 976.6,199.0 978.4,193.9 980.3,188.0 982.1,178.4 983.9,173.8 985.8,175.2 987.6,179.8 989.4,191.2 991.2,206.8 993.1,210.0 994.9,200.4 996.7,192.6 998.5,197.2 1000.4,202.2 1002.2,205.9 1004.0,208.2 1005.9,210.1 1007.7,211.4 1009.5,214.6 1011.3,217.9 1013.2,221.1 1015.0,217.9 1016.8,210.1 1018.7,200.0 1020.5,206.9 1022.3,208.3 1024.1,205.5 1026.0,202.3 1027.8,205.6 1029.6,208.3 1031.5,209.2 1033.3,208.3 1035.1,211.5 1036.9,214.3 1038.8,214.3 1040.6,212.5 1042.4,211.1 1044.2,210.2 1046.1,208.4 1047.9,207.9 1049.7,206.1 1051.6,205.6 1053.4,194.2 1055.2,186.4 1057.0,183.2 1058.9,188.3 1060.7,194.2 1062.5,188.3 1064.4,181.9 1066.2,177.8 1068.0,177.3 1069.8,178.7 1071.7,175.5 1073.5,172.3 1075.3,174.1 1077.2,174.1 1079.0,175.5 1080.8,181.9 1082.6,188.4 1084.5,191.6 1086.3,194.3 1088.1,204.0 1089.9,221.4 1089.9,224.1 1088.1,206.7 1086.3,197.1 1084.5,194.4 1082.6,191.2 1080.8,184.8 1079.0,178.4 1077.2,177.0 1075.3,177.0 1073.5,175.2 1071.7,178.4 1069.8,181.6 1068.0,180.2 1066.2,180.7 1064.4,184.8 1062.5,191.2 1060.7,197.2 1058.9,191.3 1057.0,186.2 1055.2,189.4 1053.4,197.2 1051.6,208.7 1049.7,209.1 1047.9,211.0 1046.1,211.5 1044.2,213.3 1042.4,214.2 1040.6,215.6 1038.8,217.4 1036.9,217.4 1035.1,214.7 1033.3,211.5 1031.5,212.4 1029.6,211.5 1027.8,208.8 1026.0,205.6 1024.1,208.8 1022.3,211.5 1020.5,210.2 1018.7,203.3 1016.8,213.4 1015.0,221.2 1013.2,224.4 1011.3,221.2 1009.5,218.0 1007.7,214.8 1005.9,213.4 1004.0,211.6 1002.2,209.3 1000.4,205.7 998.5,200.6 996.7,196.1 994.9,203.9 993.1,213.5 991.2,210.3 989.4,194.7 987.6,183.3 985.8,178.7 983.9,177.3 982.1,181.9 980.3,191.5 978.4,197.5 976.6,202.5 974.8,205.8 973.0,210.3 971.1,213.6 969.3,207.2 967.5,202.6 965.6,202.1 963.8,200.3 962.0,202.1 960.2,202.6 958.3,200.3 956.5,197.1 954.7,195.3 952.8,193.0 951.0,179.2 949.2,187.0 947.4,199.8 945.5,206.2 943.7,201.1 941.9,197.9 940.1,193.3 938.2,187.7 936.4,191.8 934.6,199.6 932.7,202.8 930.9,197.7 929.1,199.5 927.3,204.0 925.4,209.1 923.6,213.6 921.8,218.2 919.9,227.3 918.1,236.0 916.3,238.8 914.5,242.0 912.6,247.0 910.8,244.9 909.0,239.2 907.1,234.0 905.3,228.2 903.5,223.7 901.7,221.8 899.8,219.5 898.0,215.4 896.2,210.8 894.4,212.2 892.5,218.6 890.7,222.7 888.9,223.7 887.0,221.8 885.2,221.8 883.4,218.6 881.6,212.2 879.7,205.3 877.9,202.6 876.1,206.0 874.2,211.3 872.4,208.3 870.6,203.0" fill="#ababab" clip-path="url(#clipd)"/>
<line x1="871.1" y1="203.5" x2="1089.9" y2="203.5" stroke="#222" stroke-width="1"/>
<polyline points="870.6,204.0 872.4,207.2 874.2,205.3 876.1,200.8 877.9,198.9 879.7,204.0 881.6,213.1 883.4,221.4 885.2,225.0 887.0,223.7 888.9,225.9 890.7,224.6 892.5,218.6 894.4,209.9 896.2,207.6 898.0,211.7 899.8,216.3 901.7,219.5 903.5,221.4 905.3,216.3 907.1,202.1 909.0,207.2 910.8,216.3 912.6,221.4 914.5,224.6 916.3,228.2 918.1,233.7 919.9,227.3 921.8,219.5 923.6,211.7 925.4,205.3 927.3,200.8 929.1,198.5 930.9,200.8 932.7,204.0 934.6,198.9 936.4,191.1 938.2,185.6 940.1,188.8 941.9,191.1 943.7,189.8 945.5,195.7 947.4,200.8 949.2,194.3 951.0,186.6 952.8,185.6 954.7,184.3 956.5,186.6 958.3,176.9 960.2,169.2 962.0,193.0 963.8,204.0 965.6,195.7 967.5,198.9 969.3,204.0 971.1,209.9 973.0,205.3 974.8,198.9 976.6,194.3 978.4,193.0 980.3,191.1 982.1,182.4 983.9,178.8 985.8,178.8 987.6,184.7 989.4,195.7 991.2,205.3 993.1,200.8 994.9,193.0 996.7,187.0 998.5,194.3 1000.4,200.8 1002.2,207.2 1004.0,208.5 1005.9,213.1 1007.7,214.9 1009.5,217.7 1011.3,222.7 1013.2,224.6 1015.0,221.4 1016.8,216.3 1018.7,213.1 1020.5,216.3 1022.3,214.9 1024.1,213.1 1026.0,212.7 1027.8,215.9 1029.6,220.4 1031.5,221.4 1033.3,220.4 1035.1,221.8 1036.9,218.2 1038.8,214.0 1040.6,213.1 1042.4,212.7 1044.2,213.1 1046.1,218.2 1047.9,224.6 1049.7,222.7 1051.6,213.1 1053.4,198.9 1055.2,187.0 1057.0,184.7 1058.9,189.8 1060.7,195.7 1062.5,189.8 1064.4,183.3 1066.2,179.2 1068.0,178.8 1069.8,180.1 1071.7,176.9 1073.5,173.7 1075.3,175.6 1077.2,175.6 1079.0,176.9 1080.8,183.3 1082.6,188.8 1084.5,184.7 1086.3,186.6 1088.1,208.5 1089.9,221.4" fill="none" stroke="#1f5189" stroke-width="1.5" stroke-linejoin="round" clip-path="url(#clipd)"/>
<polyline points="870.6,200.8 872.4,205.3 874.2,207.6 876.1,200.8 877.9,195.7 879.7,200.8 881.6,209.9 883.4,216.3 885.2,219.5 887.0,219.5 888.9,221.4 890.7,220.4 892.5,216.3 894.4,209.9 896.2,208.5 898.0,213.1 899.8,217.2 901.7,219.5 903.5,221.4 905.3,225.9 907.1,230.5 909.0,234.6 910.8,238.8 912.6,239.2 914.5,235.6 916.3,233.7 918.1,232.4 919.9,224.6 921.8,216.3 923.6,211.7 925.4,207.2 927.3,202.1 929.1,197.5 930.9,195.7 932.7,200.8 934.6,197.5 936.4,189.8 938.2,185.6 940.1,191.1 941.9,195.7 943.7,198.9 945.5,204.0 947.4,197.5 949.2,184.7 951.0,176.9 952.8,179.2 954.7,181.5 956.5,183.3 958.3,186.6 960.2,188.8 962.0,193.0 963.8,195.7 965.6,198.9 967.5,200.8 969.3,205.3 971.1,211.7 973.0,208.5 974.8,204.0 976.6,200.8 978.4,195.7 980.3,189.8 982.1,180.1 983.9,175.6 985.8,176.9 987.6,181.5 989.4,193.0 991.2,208.5 993.1,211.7 994.9,202.1 996.7,194.3 998.5,198.9 1000.4,204.0 1002.2,207.6 1004.0,209.9 1005.9,211.7 1007.7,213.1 1009.5,216.3 1011.3,219.5 1013.2,222.7 1015.0,219.5 1016.8,211.7 1018.7,201.7 1020.5,208.5 1022.3,209.9 1024.1,207.2 1026.0,204.0 1027.8,207.2 1029.6,209.9 1031.5,210.8 1033.3,209.9 1035.1,213.1 1036.9,215.9 1038.8,215.9 1040.6,214.0 1042.4,212.7 1044.2,211.7 1046.1,209.9 1047.9,209.5 1049.7,207.6 1051.6,207.2 1053.4,195.7 1055.2,187.9 1057.0,184.7 1058.9,189.8 1060.7,195.7 1062.5,189.8 1064.4,183.3 1066.2,179.2 1068.0,178.8 1069.8,180.1 1071.7,176.9 1073.5,173.7 1075.3,175.6 1077.2,175.6 1079.0,176.9 1080.8,183.3 1082.6,189.8 1084.5,193.0 1086.3,195.7 1088.1,205.3 1089.9,222.7" fill="none" stroke="#111" stroke-width="2.4" stroke-linejoin="round" clip-path="url(#clipd)"/>
<polyline points="870.6,204.0 872.4,207.2 874.2,205.3 876.1,200.8 877.9,198.9 879.7,204.0 881.6,213.1 883.4,221.4 885.2,225.0 887.0,223.7 888.9,225.9 890.7,224.6 892.5,218.6 894.4,209.9 896.2,207.6 898.0,211.7 899.8,216.3 901.7,219.5 903.5,221.4 905.3,216.3 907.1,202.1 909.0,207.2 910.8,216.3 912.6,221.4 914.5,224.6 916.3,228.2 918.1,233.7 919.9,227.3 921.8,219.5 923.6,211.7 925.4,205.3 927.3,200.8 929.1,198.5 930.9,200.8 932.7,204.0 934.6,198.9 936.4,191.1 938.2,185.6 940.1,188.8 941.9,191.1 943.7,189.8 945.5,195.7 947.4,200.8 949.2,194.3 951.0,186.6 952.8,185.6 954.7,184.3 956.5,186.6 958.3,176.9 960.2,169.2 962.0,193.0 963.8,204.0 965.6,195.7 967.5,198.9 969.3,204.0 971.1,209.9 973.0,205.3 974.8,198.9 976.6,194.3 978.4,193.0 980.3,191.1 982.1,182.4 983.9,178.8 985.8,178.8 987.6,184.7 989.4,195.7 991.2,205.3 993.1,200.8 994.9,193.0 996.7,187.0 998.5,194.3 1000.4,200.8 1002.2,207.2 1004.0,208.5 1005.9,213.1 1007.7,214.9 1009.5,217.7 1011.3,222.7 1013.2,224.6 1015.0,221.4 1016.8,216.3 1018.7,213.1 1020.5,216.3 1022.3,214.9 1024.1,213.1 1026.0,212.7 1027.8,215.9 1029.6,220.4 1031.5,221.4 1033.3,220.4 1035.1,221.8 1036.9,218.2 1038.8,214.0 1040.6,213.1 1042.4,212.7 1044.2,213.1 1046.1,218.2 1047.9,224.6 1049.7,222.7 1051.6,213.1 1053.4,198.9 1055.2,187.0 1057.0,184.7 1058.9,189.8 1060.7,195.7 1062.5,189.8 1064.4,183.3 1066.2,179.2 1068.0,178.8 1069.8,180.1 1071.7,176.9 1073.5,173.7 1075.3,175.6 1077.2,175.6 1079.0,176.9 1080.8,183.3 1082.6,188.8 1084.5,184.7 1086.3,186.6 1088.1,208.5 1089.9,221.4" fill="none" stroke="#1f5189" stroke-opacity="0.45" stroke-width="1.5" stroke-linejoin="round" clip-path="url(#clipd)"/>
<rect x="871.1" y="157.7" width="218.8" height="92.3" fill="none" stroke="#111" stroke-width="1.2"/>
<text x="868.3" y="252.8" font-family='"Liberation Sans", sans-serif' font-size="10" font-weight="bold" fill="#222" text-anchor="end" >−1</text>
<text x="868.3" y="229.9" font-family='"Liberation Sans", sans-serif' font-size="10" font-weight="bold" fill="#222" text-anchor="end" >−0.5</text>
<text x="868.3" y="207.0" font-family='"Liberation Sans", sans-serif' font-size="10" font-weight="bold" fill="#222" text-anchor="end" >0</text>
<text x="868.3" y="184.1" font-family='"Liberation Sans", sans-serif' font-size="10" font-weight="bold" fill="#222" text-anchor="end" >0.5</text>
<text x="868.3" y="161.2" font-family='"Liberation Sans", sans-serif' font-size="10" font-weight="bold" fill="#222" text-anchor="end" >1</text>
<text x="877.9" y="261.3" font-family='"Liberation Sans", sans-serif' font-size="10" font-weight="bold" fill="#222" text-anchor="middle" textLength="21.6" lengthAdjust="spacingAndGlyphs" >1900</text>
<text x="914.5" y="261.3" font-family='"Liberation Sans", sans-serif' font-size="10" font-weight="bold" fill="#222" text-anchor="middle" textLength="21.6" lengthAdjust="spacingAndGlyphs" >1920</text>
<text x="951.0" y="261.3" font-family='"Liberation Sans", sans-serif' font-size="10" font-weight="bold" fill="#222" text-anchor="middle" textLength="21.6" lengthAdjust="spacingAndGlyphs" >1940</text>
<text x="987.6" y="261.3" font-family='"Liberation Sans", sans-serif' font-size="10" font-weight="bold" fill="#222" text-anchor="middle" textLength="21.6" lengthAdjust="spacingAndGlyphs" >1960</text>
<text x="1024.1" y="261.3" font-family='"Liberation Sans", sans-serif' font-size="10" font-weight="bold" fill="#222" text-anchor="middle" textLength="21.6" lengthAdjust="spacingAndGlyphs" >1980</text>
<text x="1060.7" y="261.3" font-family='"Liberation Sans", sans-serif' font-size="10" font-weight="bold" fill="#222" text-anchor="middle" textLength="21.6" lengthAdjust="spacingAndGlyphs" >2000</text>
<text x="851.3" y="203.8" transform="rotate(-90 851.3 203.8)" font-family='"Liberation Sans", sans-serif' font-size="10.5" font-weight="bold" fill="#222" text-anchor="middle">°C</text>
<text x="980.5" y="150.7" font-family='"Liberation Sans", sans-serif' font-size="10.3" font-weight="bold" fill="#1a1a1a" text-anchor="middle" textLength="76.4" lengthAdjust="spacingAndGlyphs" >North–East SPG</text>
<text x="842.0" y="153.2" font-family='"Liberation Sans", sans-serif' font-size="14.5" font-weight="bold" fill="#111" text-anchor="start" >(d)</text>
<rect x="927.7" y="216.2" width="74.5" height="29.7" fill="#fff" stroke="#222" stroke-width="1"/>
<line x1="931.5" y1="224.4" x2="952.5" y2="224.4" stroke="#111" stroke-width="2.2"/>
<line x1="931.5" y1="237.8" x2="952.5" y2="237.8" stroke="#1f5189" stroke-width="1.3"/>
<text x="955.1" y="228.3" font-family='"Liberation Sans", sans-serif' font-size="10.3" font-weight="normal" fill="#111" text-anchor="start" textLength="22.2" lengthAdjust="spacingAndGlyphs" >BINS</text>
<text x="955.1" y="241.6" font-family='"Liberation Sans", sans-serif' font-size="10.3" font-weight="normal" fill="#111" text-anchor="start" textLength="42.2" lengthAdjust="spacingAndGlyphs" >HadSST3</text>
<clipPath id="clipe"><rect x="606.3" y="362" width="219.0" height="92"/></clipPath>
<line x1="613.7" y1="362" x2="613.7" y2="454" stroke="#333" stroke-width="1" stroke-dasharray="1.2,2.4"/>
<line x1="650.0" y1="362" x2="650.0" y2="454" stroke="#333" stroke-width="1" stroke-dasharray="1.2,2.4"/>
<line x1="686.3" y1="362" x2="686.3" y2="454" stroke="#333" stroke-width="1" stroke-dasharray="1.2,2.4"/>
<line x1="722.7" y1="362" x2="722.7" y2="454" stroke="#333" stroke-width="1" stroke-dasharray="1.2,2.4"/>
<line x1="759.0" y1="362" x2="759.0" y2="454" stroke="#333" stroke-width="1" stroke-dasharray="1.2,2.4"/>
<line x1="795.3" y1="362" x2="795.3" y2="454" stroke="#333" stroke-width="1" stroke-dasharray="1.2,2.4"/>
<line x1="606.3" y1="426.9" x2="825.3" y2="426.9" stroke="#333" stroke-width="1" stroke-dasharray="1.2,2.4"/>
<line x1="606.3" y1="371.7" x2="825.3" y2="371.7" stroke="#333" stroke-width="1" stroke-dasharray="1.2,2.4"/>
<polygon points="606.4,391.3 608.3,389.5 610.1,392.3 611.9,394.3 613.7,391.7 615.5,389.6 617.3,387.4 619.1,385.5 621.0,385.7 622.8,385.3 624.6,378.7 626.4,380.8 628.2,392.3 630.0,397.6 631.9,394.8 633.7,396.1 635.5,399.9 637.3,402.2 639.1,398.9 640.9,388.9 642.8,378.9 644.6,379.3 646.4,388.0 648.2,402.2 650.0,414.3 651.8,424.9 653.7,426.1 655.5,411.6 657.3,398.9 659.1,395.5 660.9,390.5 662.7,371.5 664.5,369.8 666.4,378.3 668.2,385.4 670.0,380.5 671.8,377.0 673.6,385.3 675.4,392.1 677.3,392.5 679.1,388.1 680.9,383.8 682.7,380.5 684.5,378.2 686.3,378.9 688.2,379.7 690.0,379.3 691.8,378.2 693.6,377.4 695.4,376.5 697.2,376.5 699.1,382.6 700.9,388.8 702.7,382.3 704.5,385.2 706.3,381.4 708.1,376.8 709.9,372.1 711.8,375.6 713.6,383.1 715.4,390.6 717.2,393.7 719.0,390.7 720.8,385.9 722.7,381.3 724.5,390.9 726.3,396.4 728.1,395.6 729.9,395.7 731.7,394.1 733.6,391.1 735.4,388.0 737.2,386.4 739.0,388.1 740.8,394.3 742.6,399.8 744.5,400.4 746.3,398.6 748.1,400.7 749.9,398.1 751.7,396.1 753.5,399.0 755.3,403.1 757.2,400.0 759.0,397.1 760.8,395.0 762.6,393.8 764.4,401.9 766.2,404.7 768.1,399.6 769.9,396.8 771.7,395.4 773.5,394.7 775.3,396.3 777.1,403.3 779.0,412.8 780.8,418.2 782.6,412.7 784.4,406.2 786.2,399.9 788.0,395.2 789.9,396.1 791.7,397.6 793.5,404.0 795.3,408.7 797.1,404.1 798.9,396.2 800.7,389.9 802.6,385.3 804.4,385.3 806.2,390.0 808.0,394.7 809.8,391.7 811.6,396.5 813.5,397.3 815.3,395.7 817.1,395.7 818.9,397.4 820.7,401.3 822.5,409.2 824.4,415.6 824.4,418.3 822.5,412.0 820.7,404.2 818.9,400.4 817.1,398.7 815.3,398.8 813.5,400.5 811.6,399.7 809.8,395.0 808.0,398.1 806.2,393.4 804.4,388.7 802.6,388.8 800.7,393.5 798.9,399.9 797.1,407.8 795.3,412.5 793.5,407.8 791.7,401.5 789.9,400.0 788.0,399.2 786.2,404.0 784.4,410.3 782.6,418.2 780.8,425.1 779.0,421.1 777.1,411.6 775.3,404.5 773.5,403.0 771.7,403.7 769.9,412.0 768.1,421.7 766.2,421.2 764.4,413.0 762.6,403.9 760.8,404.2 759.0,405.4 757.2,410.2 755.3,415.1 753.5,412.8 751.7,409.4 749.9,410.8 748.1,412.8 746.3,410.2 744.5,411.4 742.6,407.4 740.8,398.5 739.0,392.3 737.2,390.7 735.4,392.4 733.6,395.6 731.7,398.7 729.9,400.4 728.1,400.5 726.3,401.4 724.5,395.9 722.7,386.4 720.8,391.1 719.0,396.0 717.2,399.1 715.4,396.1 713.6,390.9 711.8,385.7 709.9,384.5 708.1,387.8 706.3,391.0 704.5,393.5 702.7,393.4 700.9,402.6 699.1,410.2 697.2,417.9 695.4,417.9 693.6,418.8 691.8,419.6 690.0,420.7 688.2,421.1 686.3,420.3 684.5,419.6 682.7,412.3 680.9,405.9 679.1,404.7 677.3,403.6 675.4,397.6 673.6,391.8 671.8,384.4 670.0,388.8 668.2,395.0 666.4,389.4 664.5,382.2 662.7,383.5 660.9,402.3 659.1,406.9 657.3,409.9 655.5,425.4 653.7,442.6 651.8,440.5 650.0,429.0 648.2,416.0 646.4,401.8 644.6,393.1 642.8,391.8 640.9,400.9 639.1,409.9 637.3,411.4 635.5,407.3 633.7,401.6 631.9,401.3 630.0,404.9 628.2,400.5 626.4,404.3 624.6,417.4 622.8,424.9 621.0,426.2 619.1,426.9 617.3,426.1 615.5,425.5 613.7,424.8 611.9,420.6 610.1,411.6 608.3,401.9 606.4,396.8" fill="#ababab" clip-path="url(#clipe)"/>
<line x1="606.3" y1="399.3" x2="825.3" y2="399.3" stroke="#222" stroke-width="1"/>
<polyline points="606.4,392.5 608.3,396.4 610.1,390.2 611.9,389.4 613.7,405.9 615.5,426.5 617.3,431.2 619.1,428.0 621.0,432.7 622.8,418.5 624.6,390.2 626.4,379.2 628.2,383.8 630.0,410.6 631.9,418.5 633.7,396.4 635.5,401.2 637.3,405.9 639.1,413.8 640.9,394.9 642.8,385.4 644.6,388.5 646.4,399.6 648.2,405.9 650.0,399.6 651.8,404.4 653.7,413.8 655.5,402.8 657.3,390.2 659.1,398.1 660.9,396.4 662.7,387.0 664.5,390.2 666.4,396.4 668.2,394.9 670.0,390.2 671.8,377.5 673.6,369.6 675.4,387.0 677.3,399.6 679.1,394.9 680.9,391.7 682.7,394.9 684.5,402.8 686.3,405.9 688.2,413.8 690.0,405.9 691.8,396.4 693.6,401.2 695.4,403.6 697.2,396.4 699.1,401.2 700.9,409.1 702.7,405.9 704.5,401.2 706.3,394.9 708.1,393.4 709.9,389.4 711.8,385.4 713.6,388.5 715.4,392.5 717.2,394.1 719.0,398.9 720.8,397.2 722.7,394.9 724.5,392.5 726.3,396.4 728.1,398.9 729.9,398.1 731.7,396.4 733.6,394.1 735.4,391.7 737.2,390.9 739.0,391.7 740.8,398.9 742.6,402.8 744.5,401.2 746.3,405.9 748.1,409.1 749.9,405.9 751.7,401.2 753.5,403.6 755.3,404.4 757.2,399.6 759.0,398.1 760.8,401.9 762.6,407.4 764.4,402.8 766.2,413.8 768.1,407.4 769.9,401.9 771.7,399.6 773.5,398.1 775.3,400.4 777.1,405.9 779.0,413.8 780.8,419.3 782.6,412.3 784.4,407.4 786.2,401.2 788.0,396.4 789.9,397.2 791.7,401.2 793.5,403.6 795.3,407.4 797.1,403.6 798.9,396.4 800.7,391.7 802.6,387.0 804.4,386.2 806.2,391.7 808.0,392.5 809.8,389.4 811.6,387.0 813.5,384.7 815.3,385.4 817.1,387.0 818.9,389.4 820.7,393.4 822.5,401.2 824.4,409.1" fill="none" stroke="#1f5189" stroke-width="1.5" stroke-linejoin="round" clip-path="url(#clipe)"/>
<polyline points="606.4,394.1 608.3,395.7 610.1,401.9 611.9,407.4 613.7,408.3 615.5,407.6 617.3,406.8 619.1,406.2 621.0,405.9 622.8,405.1 624.6,398.1 626.4,392.5 628.2,396.4 630.0,401.2 631.9,398.1 633.7,398.9 635.5,403.6 637.3,406.8 639.1,404.4 640.9,394.9 642.8,385.4 644.6,386.2 646.4,394.9 648.2,409.1 650.0,421.7 651.8,432.7 653.7,434.4 655.5,418.5 657.3,404.4 659.1,401.2 660.9,396.4 662.7,377.5 664.5,376.0 666.4,383.8 668.2,390.2 670.0,384.7 671.8,380.7 673.6,388.5 675.4,394.9 677.3,398.1 679.1,396.4 680.9,394.9 682.7,396.4 684.5,398.9 686.3,399.6 688.2,400.4 690.0,400.0 691.8,398.9 693.6,398.1 695.4,397.2 697.2,397.2 699.1,396.4 700.9,395.7 702.7,387.8 704.5,389.4 706.3,386.2 708.1,382.3 709.9,378.3 711.8,380.7 713.6,387.0 715.4,393.4 717.2,396.4 719.0,393.4 720.8,388.5 722.7,383.8 724.5,393.4 726.3,398.9 728.1,398.1 729.9,398.1 731.7,396.4 733.6,393.4 735.4,390.2 737.2,388.5 739.0,390.2 740.8,396.4 742.6,403.6 744.5,405.9 746.3,404.4 748.1,406.8 749.9,404.4 751.7,402.8 753.5,405.9 755.3,409.1 757.2,405.1 759.0,401.2 760.8,399.6 762.6,398.9 764.4,407.4 766.2,413.0 768.1,410.6 769.9,404.4 771.7,399.6 773.5,398.9 775.3,400.4 777.1,407.4 779.0,417.0 780.8,421.7 782.6,415.4 784.4,408.3 786.2,401.9 788.0,397.2 789.9,398.1 791.7,399.6 793.5,405.9 795.3,410.6 797.1,405.9 798.9,398.1 800.7,391.7 802.6,387.0 804.4,387.0 806.2,391.7 808.0,396.4 809.8,393.4 811.6,398.1 813.5,398.9 815.3,397.2 817.1,397.2 818.9,398.9 820.7,402.8 822.5,410.6 824.4,417.0" fill="none" stroke="#111" stroke-width="2.4" stroke-linejoin="round" clip-path="url(#clipe)"/>
<polyline points="606.4,392.5 608.3,396.4 610.1,390.2 611.9,389.4 613.7,405.9 615.5,426.5 617.3,431.2 619.1,428.0 621.0,432.7 622.8,418.5 624.6,390.2 626.4,379.2 628.2,383.8 630.0,410.6 631.9,418.5 633.7,396.4 635.5,401.2 637.3,405.9 639.1,413.8 640.9,394.9 642.8,385.4 644.6,388.5 646.4,399.6 648.2,405.9 650.0,399.6 651.8,404.4 653.7,413.8 655.5,402.8 657.3,390.2 659.1,398.1 660.9,396.4 662.7,387.0 664.5,390.2 666.4,396.4 668.2,394.9 670.0,390.2 671.8,377.5 673.6,369.6 675.4,387.0 677.3,399.6 679.1,394.9 680.9,391.7 682.7,394.9 684.5,402.8 686.3,405.9 688.2,413.8 690.0,405.9 691.8,396.4 693.6,401.2 695.4,403.6 697.2,396.4 699.1,401.2 700.9,409.1 702.7,405.9 704.5,401.2 706.3,394.9 708.1,393.4 709.9,389.4 711.8,385.4 713.6,388.5 715.4,392.5 717.2,394.1 719.0,398.9 720.8,397.2 722.7,394.9 724.5,392.5 726.3,396.4 728.1,398.9 729.9,398.1 731.7,396.4 733.6,394.1 735.4,391.7 737.2,390.9 739.0,391.7 740.8,398.9 742.6,402.8 744.5,401.2 746.3,405.9 748.1,409.1 749.9,405.9 751.7,401.2 753.5,403.6 755.3,404.4 757.2,399.6 759.0,398.1 760.8,401.9 762.6,407.4 764.4,402.8 766.2,413.8 768.1,407.4 769.9,401.9 771.7,399.6 773.5,398.1 775.3,400.4 777.1,405.9 779.0,413.8 780.8,419.3 782.6,412.3 784.4,407.4 786.2,401.2 788.0,396.4 789.9,397.2 791.7,401.2 793.5,403.6 795.3,407.4 797.1,403.6 798.9,396.4 800.7,391.7 802.6,387.0 804.4,386.2 806.2,391.7 808.0,392.5 809.8,389.4 811.6,387.0 813.5,384.7 815.3,385.4 817.1,387.0 818.9,389.4 820.7,393.4 822.5,401.2 824.4,409.1" fill="none" stroke="#1f5189" stroke-opacity="0.45" stroke-width="1.5" stroke-linejoin="round" clip-path="url(#clipe)"/>
<rect x="606.3" y="362" width="219.0" height="92.0" fill="none" stroke="#111" stroke-width="1.2"/>
<text x="603.5" y="430.4" font-family='"Liberation Sans", sans-serif' font-size="10" font-weight="bold" fill="#222" text-anchor="end" >−2</text>
<text x="603.5" y="402.8" font-family='"Liberation Sans", sans-serif' font-size="10" font-weight="bold" fill="#222" text-anchor="end" >0</text>
<text x="603.5" y="375.2" font-family='"Liberation Sans", sans-serif' font-size="10" font-weight="bold" fill="#222" text-anchor="end" >2</text>
<text x="613.7" y="465.3" font-family='"Liberation Sans", sans-serif' font-size="10" font-weight="bold" fill="#222" text-anchor="middle" textLength="21.6" lengthAdjust="spacingAndGlyphs" >1900</text>
<text x="650.0" y="465.3" font-family='"Liberation Sans", sans-serif' font-size="10" font-weight="bold" fill="#222" text-anchor="middle" textLength="21.6" lengthAdjust="spacingAndGlyphs" >1920</text>
<text x="686.3" y="465.3" font-family='"Liberation Sans", sans-serif' font-size="10" font-weight="bold" fill="#222" text-anchor="middle" textLength="21.6" lengthAdjust="spacingAndGlyphs" >1940</text>
<text x="722.7" y="465.3" font-family='"Liberation Sans", sans-serif' font-size="10" font-weight="bold" fill="#222" text-anchor="middle" textLength="21.6" lengthAdjust="spacingAndGlyphs" >1960</text>
<text x="759.0" y="465.3" font-family='"Liberation Sans", sans-serif' font-size="10" font-weight="bold" fill="#222" text-anchor="middle" textLength="21.6" lengthAdjust="spacingAndGlyphs" >1980</text>
<text x="795.3" y="465.3" font-family='"Liberation Sans", sans-serif' font-size="10" font-weight="bold" fill="#222" text-anchor="middle" textLength="21.6" lengthAdjust="spacingAndGlyphs" >2000</text>
<text x="586.5" y="408.0" transform="rotate(-90 586.5 408.0)" font-family='"Liberation Sans", sans-serif' font-size="10.5" font-weight="bold" fill="#222" text-anchor="middle">°C</text>
<text x="715.8" y="355.0" font-family='"Liberation Sans", sans-serif' font-size="10.3" font-weight="bold" fill="#1a1a1a" text-anchor="middle" textLength="101.2" lengthAdjust="spacingAndGlyphs" >South–West Labrador</text>
<text x="586.0" y="357.5" font-family='"Liberation Sans", sans-serif' font-size="14.5" font-weight="bold" fill="#111" text-anchor="start" >(e)</text>
<rect x="689" y="422.1" width="74.5" height="29.7" fill="#fff" stroke="#222" stroke-width="1"/>
<line x1="692.8" y1="430.3" x2="713.8" y2="430.3" stroke="#111" stroke-width="2.2"/>
<line x1="692.8" y1="443.7" x2="713.8" y2="443.7" stroke="#1f5189" stroke-width="1.3"/>
<text x="716.4" y="434.2" font-family='"Liberation Sans", sans-serif' font-size="10.3" font-weight="normal" fill="#111" text-anchor="start" textLength="22.2" lengthAdjust="spacingAndGlyphs" >BINS</text>
<text x="716.4" y="447.5" font-family='"Liberation Sans", sans-serif' font-size="10.3" font-weight="normal" fill="#111" text-anchor="start" textLength="42.2" lengthAdjust="spacingAndGlyphs" >HadSST3</text>
<clipPath id="clipf"><rect x="872.3" y="362" width="218.5" height="91.5"/></clipPath>
<line x1="879.6" y1="362" x2="879.6" y2="453.5" stroke="#333" stroke-width="1" stroke-dasharray="1.2,2.4"/>
<line x1="916.0" y1="362" x2="916.0" y2="453.5" stroke="#333" stroke-width="1" stroke-dasharray="1.2,2.4"/>
<line x1="952.4" y1="362" x2="952.4" y2="453.5" stroke="#333" stroke-width="1" stroke-dasharray="1.2,2.4"/>
<line x1="988.8" y1="362" x2="988.8" y2="453.5" stroke="#333" stroke-width="1" stroke-dasharray="1.2,2.4"/>
<line x1="1025.2" y1="362" x2="1025.2" y2="453.5" stroke="#333" stroke-width="1" stroke-dasharray="1.2,2.4"/>
<line x1="1061.6" y1="362" x2="1061.6" y2="453.5" stroke="#333" stroke-width="1" stroke-dasharray="1.2,2.4"/>
<line x1="872.3" y1="446.2" x2="1090.8" y2="446.2" stroke="#333" stroke-width="1" stroke-dasharray="1.2,2.4"/>
<line x1="872.3" y1="393.4" x2="1090.8" y2="393.4" stroke="#333" stroke-width="1" stroke-dasharray="1.2,2.4"/>
<line x1="872.3" y1="367.0" x2="1090.8" y2="367.0" stroke="#333" stroke-width="1" stroke-dasharray="1.2,2.4"/>
<polygon points="872.3,415.3 874.1,421.1 876.0,423.8 877.8,410.7 879.6,397.6 881.4,404.9 883.2,420.1 885.1,433.0 886.9,434.6 888.7,424.8 890.5,413.7 892.3,407.4 894.2,405.8 896.0,408.2 897.8,413.7 899.6,421.6 901.4,426.7 903.3,426.7 905.1,427.5 906.9,429.0 908.7,429.7 910.5,431.2 912.4,431.2 914.2,428.9 916.0,421.6 917.8,413.7 919.6,411.4 921.5,415.3 923.3,418.5 925.1,420.9 926.9,423.2 928.7,426.7 930.6,430.6 932.4,429.8 934.2,423.2 936.0,415.3 937.8,409.0 939.7,405.8 941.5,409.0 943.3,410.6 945.1,412.9 946.9,407.4 948.8,404.2 950.6,405.8 952.4,407.4 954.2,402.6 956.0,405.0 957.9,407.4 959.7,409.0 961.5,410.6 963.3,412.9 965.1,414.5 967.0,413.7 968.8,407.4 970.6,396.6 972.4,386.8 974.2,383.4 976.1,392.1 977.9,404.2 979.7,409.0 981.5,412.2 983.3,416.9 985.2,421.7 987.0,424.9 988.8,426.7 990.6,431.5 992.4,433.1 994.3,426.7 996.1,424.9 997.9,426.8 999.7,424.9 1001.5,426.8 1003.4,429.2 1005.2,431.5 1007.0,430.0 1008.8,425.0 1010.6,426.8 1012.5,429.2 1014.3,430.0 1016.1,431.6 1017.9,426.9 1019.7,420.3 1021.6,419.5 1023.4,421.1 1025.2,420.3 1027.0,421.1 1028.8,420.3 1030.7,417.9 1032.5,417.2 1034.3,423.5 1036.1,431.7 1037.9,428.5 1039.8,420.4 1041.6,416.4 1043.4,415.6 1045.2,414.0 1047.0,410.9 1048.9,406.1 1050.7,401.4 1052.5,407.7 1054.3,409.3 1056.1,406.2 1058.0,403.0 1059.8,402.2 1061.6,403.0 1063.4,409.4 1065.2,414.1 1067.1,417.3 1068.9,411.0 1070.7,404.7 1072.5,403.1 1074.3,405.5 1076.2,407.9 1078.0,414.2 1079.8,419.0 1081.6,421.3 1083.4,418.2 1085.3,419.0 1087.1,422.2 1088.9,428.8 1090.7,435.1 1090.7,437.2 1088.9,430.9 1087.1,424.3 1085.3,421.1 1083.4,420.4 1081.6,423.5 1079.8,421.2 1078.0,416.4 1076.2,410.1 1074.3,407.7 1072.5,405.4 1070.7,407.0 1068.9,413.3 1067.1,419.6 1065.2,416.5 1063.4,411.7 1061.6,405.4 1059.8,404.6 1058.0,405.4 1056.1,408.6 1054.3,411.8 1052.5,410.2 1050.7,403.9 1048.9,408.6 1047.0,413.4 1045.2,416.6 1043.4,418.2 1041.6,419.0 1039.8,422.9 1037.9,431.1 1036.1,434.3 1034.3,426.1 1032.5,419.8 1030.7,420.6 1028.8,423.0 1027.0,423.8 1025.2,423.0 1023.4,423.8 1021.6,422.2 1019.7,423.0 1017.9,429.6 1016.1,434.4 1014.3,432.8 1012.5,432.0 1010.6,429.7 1008.8,427.8 1007.0,432.9 1005.2,434.5 1003.4,432.1 1001.5,429.7 999.7,427.9 997.9,429.7 996.1,427.9 994.3,429.8 992.4,436.1 990.6,434.5 988.8,429.8 987.0,427.9 985.2,424.8 983.3,420.0 981.5,415.3 979.7,412.1 977.9,407.4 976.1,396.8 974.2,389.7 972.4,392.6 970.6,401.8 968.8,410.6 967.0,423.2 965.1,430.4 963.3,428.8 961.5,426.4 959.7,424.8 957.9,423.2 956.0,420.9 954.2,418.5 952.4,410.6 950.6,409.0 948.8,407.4 946.9,410.6 945.1,416.1 943.3,413.7 941.5,412.1 939.7,409.0 937.8,412.1 936.0,418.5 934.2,426.4 932.4,433.0 930.6,433.8 928.7,429.8 926.9,426.4 925.1,424.0 923.3,421.6 921.5,418.5 919.6,414.5 917.8,416.9 916.0,424.8 914.2,437.1 912.4,444.4 910.5,441.1 908.7,436.3 906.9,432.2 905.1,430.6 903.3,429.8 901.4,429.8 899.6,424.8 897.8,416.9 896.0,411.4 894.2,409.0 892.3,410.6 890.5,416.9 888.7,428.0 886.9,437.8 885.1,436.2 883.2,423.2 881.4,413.1 879.6,410.8 877.8,419.9 876.0,429.0 874.1,425.3 872.3,418.5" fill="#ababab" clip-path="url(#clipf)"/>
<line x1="872.3" y1="419.8" x2="1090.8" y2="419.8" stroke="#222" stroke-width="1"/>
<polyline points="872.3,409.0 874.1,420.1 876.0,423.2 877.8,412.1 879.6,409.0 881.4,418.5 883.2,429.8 885.1,447.3 886.9,449.6 888.7,434.6 890.5,421.6 892.3,415.3 894.2,410.6 896.0,412.1 897.8,418.5 899.6,424.8 901.4,431.4 903.3,434.6 905.1,428.2 906.9,417.7 908.7,416.9 910.5,420.1 912.4,420.9 914.2,419.3 916.0,416.9 917.8,413.7 919.6,414.5 921.5,417.7 923.3,419.3 925.1,420.9 926.9,423.2 928.7,426.4 930.6,429.8 932.4,430.6 934.2,424.8 936.0,416.9 937.8,405.8 939.7,402.6 941.5,405.8 943.3,410.6 945.1,410.6 946.9,404.2 948.8,396.0 950.6,399.2 952.4,407.4 954.2,413.7 956.0,419.3 957.9,416.9 959.7,420.1 961.5,422.4 963.3,428.2 965.1,433.8 967.0,426.4 968.8,418.5 970.6,412.1 972.4,405.8 974.2,404.2 976.1,405.0 977.9,407.4 979.7,412.1 981.5,416.9 983.3,421.6 985.2,424.8 987.0,428.2 988.8,429.0 990.6,428.2 992.4,425.6 994.3,426.4 996.1,426.4 997.9,425.6 999.7,428.2 1001.5,430.6 1003.4,429.8 1005.2,428.2 1007.0,429.8 1008.8,431.4 1010.6,428.2 1012.5,428.2 1014.3,433.0 1016.1,438.5 1017.9,433.0 1019.7,429.8 1021.6,426.4 1023.4,425.6 1025.2,424.8 1027.0,424.8 1028.8,424.0 1030.7,420.9 1032.5,419.3 1034.3,424.8 1036.1,432.2 1037.9,428.2 1039.8,421.6 1041.6,418.5 1043.4,416.1 1045.2,416.9 1047.0,415.3 1048.9,412.1 1050.7,415.3 1052.5,413.7 1054.3,410.6 1056.1,407.4 1058.0,404.2 1059.8,402.6 1061.6,404.2 1063.4,409.0 1065.2,414.5 1067.1,416.9 1068.9,409.0 1070.7,402.6 1072.5,402.6 1074.3,405.8 1076.2,409.0 1078.0,413.7 1079.8,418.5 1081.6,420.1 1083.4,416.1 1085.3,413.7 1087.1,415.3 1088.9,421.6 1090.7,434.6" fill="none" stroke="#1f5189" stroke-width="1.5" stroke-linejoin="round" clip-path="url(#clipf)"/>
<polyline points="872.3,416.9 874.1,423.2 876.0,426.4 877.8,415.3 879.6,404.2 881.4,409.0 883.2,421.6 885.1,434.6 886.9,436.2 888.7,426.4 890.5,415.3 892.3,409.0 894.2,407.4 896.0,409.8 897.8,415.3 899.6,423.2 901.4,428.2 903.3,428.2 905.1,429.0 906.9,430.6 908.7,433.0 910.5,436.2 912.4,437.8 914.2,433.0 916.0,423.2 917.8,415.3 919.6,412.9 921.5,416.9 923.3,420.1 925.1,422.4 926.9,424.8 928.7,428.2 930.6,432.2 932.4,431.4 934.2,424.8 936.0,416.9 937.8,410.6 939.7,407.4 941.5,410.6 943.3,412.1 945.1,414.5 946.9,409.0 948.8,405.8 950.6,407.4 952.4,409.0 954.2,410.6 956.0,412.9 957.9,415.3 959.7,416.9 961.5,418.5 963.3,420.9 965.1,422.4 967.0,418.5 968.8,409.0 970.6,399.2 972.4,389.7 974.2,386.5 976.1,394.5 977.9,405.8 979.7,410.6 981.5,413.7 983.3,418.5 985.2,423.2 987.0,426.4 988.8,428.2 990.6,433.0 992.4,434.6 994.3,428.2 996.1,426.4 997.9,428.2 999.7,426.4 1001.5,428.2 1003.4,430.6 1005.2,433.0 1007.0,431.4 1008.8,426.4 1010.6,428.2 1012.5,430.6 1014.3,431.4 1016.1,433.0 1017.9,428.2 1019.7,421.6 1021.6,420.9 1023.4,422.4 1025.2,421.6 1027.0,422.4 1028.8,421.6 1030.7,419.3 1032.5,418.5 1034.3,424.8 1036.1,433.0 1037.9,429.8 1039.8,421.6 1041.6,417.7 1043.4,416.9 1045.2,415.3 1047.0,412.1 1048.9,407.4 1050.7,402.6 1052.5,409.0 1054.3,410.6 1056.1,407.4 1058.0,404.2 1059.8,403.4 1061.6,404.2 1063.4,410.6 1065.2,415.3 1067.1,418.5 1068.9,412.1 1070.7,405.8 1072.5,404.2 1074.3,406.6 1076.2,409.0 1078.0,415.3 1079.8,420.1 1081.6,422.4 1083.4,419.3 1085.3,420.1 1087.1,423.2 1088.9,429.8 1090.7,436.2" fill="none" stroke="#111" stroke-width="2.4" stroke-linejoin="round" clip-path="url(#clipf)"/>
<polyline points="872.3,409.0 874.1,420.1 876.0,423.2 877.8,412.1 879.6,409.0 881.4,418.5 883.2,429.8 885.1,447.3 886.9,449.6 888.7,434.6 890.5,421.6 892.3,415.3 894.2,410.6 896.0,412.1 897.8,418.5 899.6,424.8 901.4,431.4 903.3,434.6 905.1,428.2 906.9,417.7 908.7,416.9 910.5,420.1 912.4,420.9 914.2,419.3 916.0,416.9 917.8,413.7 919.6,414.5 921.5,417.7 923.3,419.3 925.1,420.9 926.9,423.2 928.7,426.4 930.6,429.8 932.4,430.6 934.2,424.8 936.0,416.9 937.8,405.8 939.7,402.6 941.5,405.8 943.3,410.6 945.1,410.6 946.9,404.2 948.8,396.0 950.6,399.2 952.4,407.4 954.2,413.7 956.0,419.3 957.9,416.9 959.7,420.1 961.5,422.4 963.3,428.2 965.1,433.8 967.0,426.4 968.8,418.5 970.6,412.1 972.4,405.8 974.2,404.2 976.1,405.0 977.9,407.4 979.7,412.1 981.5,416.9 983.3,421.6 985.2,424.8 987.0,428.2 988.8,429.0 990.6,428.2 992.4,425.6 994.3,426.4 996.1,426.4 997.9,425.6 999.7,428.2 1001.5,430.6 1003.4,429.8 1005.2,428.2 1007.0,429.8 1008.8,431.4 1010.6,428.2 1012.5,428.2 1014.3,433.0 1016.1,438.5 1017.9,433.0 1019.7,429.8 1021.6,426.4 1023.4,425.6 1025.2,424.8 1027.0,424.8 1028.8,424.0 1030.7,420.9 1032.5,419.3 1034.3,424.8 1036.1,432.2 1037.9,428.2 1039.8,421.6 1041.6,418.5 1043.4,416.1 1045.2,416.9 1047.0,415.3 1048.9,412.1 1050.7,415.3 1052.5,413.7 1054.3,410.6 1056.1,407.4 1058.0,404.2 1059.8,402.6 1061.6,404.2 1063.4,409.0 1065.2,414.5 1067.1,416.9 1068.9,409.0 1070.7,402.6 1072.5,402.6 1074.3,405.8 1076.2,409.0 1078.0,413.7 1079.8,418.5 1081.6,420.1 1083.4,416.1 1085.3,413.7 1087.1,415.3 1088.9,421.6 1090.7,434.6" fill="none" stroke="#1f5189" stroke-opacity="0.45" stroke-width="1.5" stroke-linejoin="round" clip-path="url(#clipf)"/>
<rect x="872.3" y="362" width="218.5" height="91.5" fill="none" stroke="#111" stroke-width="1.2"/>
<text x="869.5" y="449.7" font-family='"Liberation Sans", sans-serif' font-size="10" font-weight="bold" fill="#222" text-anchor="end" >−1</text>
<text x="869.5" y="423.3" font-family='"Liberation Sans", sans-serif' font-size="10" font-weight="bold" fill="#222" text-anchor="end" >0</text>
<text x="869.5" y="396.9" font-family='"Liberation Sans", sans-serif' font-size="10" font-weight="bold" fill="#222" text-anchor="end" >1</text>
<text x="869.5" y="370.5" font-family='"Liberation Sans", sans-serif' font-size="10" font-weight="bold" fill="#222" text-anchor="end" >2</text>
<text x="879.6" y="464.8" font-family='"Liberation Sans", sans-serif' font-size="10" font-weight="bold" fill="#222" text-anchor="middle" textLength="21.6" lengthAdjust="spacingAndGlyphs" >1900</text>
<text x="916.0" y="464.8" font-family='"Liberation Sans", sans-serif' font-size="10" font-weight="bold" fill="#222" text-anchor="middle" textLength="21.6" lengthAdjust="spacingAndGlyphs" >1920</text>
<text x="952.4" y="464.8" font-family='"Liberation Sans", sans-serif' font-size="10" font-weight="bold" fill="#222" text-anchor="middle" textLength="21.6" lengthAdjust="spacingAndGlyphs" >1940</text>
<text x="988.8" y="464.8" font-family='"Liberation Sans", sans-serif' font-size="10" font-weight="bold" fill="#222" text-anchor="middle" textLength="21.6" lengthAdjust="spacingAndGlyphs" >1960</text>
<text x="1025.2" y="464.8" font-family='"Liberation Sans", sans-serif' font-size="10" font-weight="bold" fill="#222" text-anchor="middle" textLength="21.6" lengthAdjust="spacingAndGlyphs" >1980</text>
<text x="1061.6" y="464.8" font-family='"Liberation Sans", sans-serif' font-size="10" font-weight="bold" fill="#222" text-anchor="middle" textLength="21.6" lengthAdjust="spacingAndGlyphs" >2000</text>
<text x="852.5" y="407.8" transform="rotate(-90 852.5 407.8)" font-family='"Liberation Sans", sans-serif' font-size="10.5" font-weight="bold" fill="#222" text-anchor="middle">°C</text>
<text x="981.5" y="355.0" font-family='"Liberation Sans", sans-serif' font-size="10.3" font-weight="bold" fill="#1a1a1a" text-anchor="middle" textLength="40.9" lengthAdjust="spacingAndGlyphs" >Intergyre</text>
<text x="843.4" y="357.5" font-family='"Liberation Sans", sans-serif' font-size="14.5" font-weight="bold" fill="#111" text-anchor="start" >(f)</text>
<rect x="981.2" y="364.6" width="74.5" height="29.7" fill="#fff" stroke="#222" stroke-width="1"/>
<line x1="985.0" y1="372.8" x2="1006.0" y2="372.8" stroke="#111" stroke-width="2.2"/>
<line x1="985.0" y1="386.2" x2="1006.0" y2="386.2" stroke="#1f5189" stroke-width="1.3"/>
<text x="1008.6" y="376.7" font-family='"Liberation Sans", sans-serif' font-size="10.3" font-weight="normal" fill="#111" text-anchor="start" textLength="22.2" lengthAdjust="spacingAndGlyphs" >BINS</text>
<text x="1008.6" y="390.0" font-family='"Liberation Sans", sans-serif' font-size="10.3" font-weight="normal" fill="#111" text-anchor="start" textLength="42.2" lengthAdjust="spacingAndGlyphs" >HadSST3</text>
<clipPath id="clipg"><rect x="607" y="502" width="218.39999999999998" height="91.29999999999995"/></clipPath>
<line x1="613.3" y1="502" x2="613.3" y2="593.3" stroke="#333" stroke-width="1" stroke-dasharray="1.2,2.4"/>
<line x1="649.8" y1="502" x2="649.8" y2="593.3" stroke="#333" stroke-width="1" stroke-dasharray="1.2,2.4"/>
<line x1="686.3" y1="502" x2="686.3" y2="593.3" stroke="#333" stroke-width="1" stroke-dasharray="1.2,2.4"/>
<line x1="722.7" y1="502" x2="722.7" y2="593.3" stroke="#333" stroke-width="1" stroke-dasharray="1.2,2.4"/>
<line x1="759.2" y1="502" x2="759.2" y2="593.3" stroke="#333" stroke-width="1" stroke-dasharray="1.2,2.4"/>
<line x1="795.7" y1="502" x2="795.7" y2="593.3" stroke="#333" stroke-width="1" stroke-dasharray="1.2,2.4"/>
<line x1="607" y1="592.8" x2="825.4" y2="592.8" stroke="#333" stroke-width="1" stroke-dasharray="1.2,2.4"/>
<line x1="607" y1="574.4" x2="825.4" y2="574.4" stroke="#333" stroke-width="1" stroke-dasharray="1.2,2.4"/>
<line x1="607" y1="537.6" x2="825.4" y2="537.6" stroke="#333" stroke-width="1" stroke-dasharray="1.2,2.4"/>
<line x1="607" y1="519.2" x2="825.4" y2="519.2" stroke="#333" stroke-width="1" stroke-dasharray="1.2,2.4"/>
<polygon points="606.0,546.1 607.8,545.0 609.7,538.3 611.5,539.3 613.3,549.6 615.1,545.7 616.9,538.7 618.8,534.7 620.6,541.3 622.4,549.4 624.2,552.1 626.1,551.6 627.9,550.3 629.7,544.2 631.5,544.3 633.4,557.8 635.2,574.8 637.0,558.6 638.8,561.5 640.7,562.6 642.5,570.2 644.3,571.9 646.1,569.0 648.0,574.0 649.8,571.1 651.6,561.4 653.4,554.9 655.3,550.3 657.1,543.1 658.9,543.9 660.7,554.9 662.5,564.5 664.4,561.2 666.2,560.4 668.0,548.6 669.8,537.6 671.7,539.3 673.5,548.6 675.3,556.6 677.1,547.2 679.0,542.4 680.8,536.1 682.6,534.5 684.4,543.9 686.3,559.7 688.1,567.0 689.9,566.5 691.7,562.5 693.6,557.1 695.4,555.6 697.2,553.3 699.0,550.9 700.9,547.9 702.7,547.5 704.5,558.0 706.3,548.6 708.1,537.6 710.0,539.3 711.8,548.6 713.6,559.7 715.4,565.9 717.3,570.7 719.1,562.8 720.9,559.7 722.7,564.5 724.6,556.6 726.4,559.7 728.2,562.8 730.0,564.5 731.9,562.8 733.7,559.7 735.5,554.9 737.3,562.8 739.2,556.6 741.0,550.3 742.8,548.6 744.6,555.9 746.5,564.7 748.3,575.1 750.1,572.9 751.9,562.8 753.7,556.5 755.6,550.3 757.4,553.4 759.2,554.8 761.0,548.6 762.9,542.3 764.7,531.2 766.5,543.7 768.3,557.9 770.2,562.6 772.0,556.4 773.8,550.1 775.6,547.0 777.5,553.2 779.3,562.6 781.1,573.6 782.9,564.2 784.8,557.7 786.6,562.5 788.4,569.5 790.2,564.1 792.1,549.9 793.9,535.8 795.7,533.0 797.5,531.0 799.3,529.1 801.2,534.3 803.0,537.9 804.8,535.3 806.6,534.1 808.5,530.9 810.3,530.1 812.1,532.5 813.9,537.0 815.8,538.6 817.6,535.4 819.4,530.6 821.2,535.3 823.1,535.3 824.9,538.3 824.9,543.9 823.1,540.7 821.2,540.6 819.4,535.8 817.6,540.5 815.8,543.6 813.9,541.9 812.1,537.2 810.3,534.8 808.5,535.4 806.6,538.5 804.8,540.7 803.0,544.3 801.2,541.6 799.3,535.8 797.5,536.9 795.7,538.2 793.9,540.2 792.1,554.3 790.2,568.5 788.4,573.8 786.6,566.8 784.8,562.0 782.9,568.4 781.1,577.8 779.3,566.7 777.5,557.3 775.6,551.1 773.8,554.2 772.0,560.4 770.2,566.6 768.3,561.8 766.5,547.7 764.7,535.1 762.9,546.2 761.0,552.4 759.2,558.6 757.4,557.2 755.6,554.0 753.7,560.2 751.9,566.5 750.1,578.4 748.3,582.5 746.5,570.8 744.6,560.8 742.8,552.3 741.0,554.0 739.2,560.2 737.3,566.5 735.5,558.6 733.7,563.4 731.9,566.5 730.0,568.1 728.2,566.5 726.4,563.4 724.6,560.2 722.7,568.1 720.9,563.4 719.1,566.5 717.3,574.4 715.4,569.6 713.6,563.4 711.8,552.3 710.0,542.9 708.1,541.3 706.3,552.3 704.5,561.7 702.7,556.7 700.9,562.6 699.0,568.8 697.2,574.5 695.4,580.0 693.6,584.7 691.7,585.5 689.9,584.9 688.1,578.1 686.3,563.4 684.4,547.5 682.6,538.2 680.8,539.8 679.0,546.1 677.1,550.8 675.3,560.2 673.5,552.3 671.7,542.9 669.8,541.3 668.0,552.3 666.2,564.1 664.4,564.8 662.5,568.1 660.7,558.6 658.9,547.5 657.1,546.8 655.3,554.0 653.4,558.6 651.6,567.9 649.8,580.3 648.0,583.6 646.1,579.1 644.3,582.5 642.5,581.2 640.7,572.9 638.8,571.1 637.0,567.4 635.2,582.9 633.4,565.2 631.5,550.4 629.7,549.1 627.9,554.0 626.1,558.9 624.2,563.2 622.4,564.1 620.6,559.7 618.8,556.7 616.9,559.3 615.1,564.8 613.3,567.2 611.5,555.4 609.7,553.1 607.8,556.0 606.0,553.4" fill="#ababab" clip-path="url(#clipg)"/>
<line x1="607" y1="556.0" x2="825.4" y2="556.0" stroke="#222" stroke-width="1"/>
<polyline points="606.0,555.3 607.8,556.7 609.7,558.4 611.5,561.5 613.3,564.6 615.1,563.0 616.9,569.4 618.8,575.7 620.6,572.6 622.4,567.8 624.2,566.3 626.1,564.6 627.9,563.0 629.7,561.5 631.5,559.9 633.4,558.4 635.2,567.8 637.0,566.3 638.8,564.6 640.7,563.0 642.5,564.6 644.3,561.5 646.1,563.0 648.0,564.6 649.8,566.3 651.6,561.5 653.4,558.4 655.3,556.7 657.1,558.4 658.9,557.7 660.7,559.1 662.5,558.4 664.4,557.7 666.2,555.3 668.0,550.5 669.8,544.2 671.7,545.7 673.5,549.0 675.3,550.5 677.1,549.0 679.0,542.6 680.8,538.7 682.6,538.0 684.4,544.2 686.3,553.6 688.1,561.5 689.9,558.4 691.7,552.9 693.6,550.5 695.4,551.2 697.2,552.1 699.0,559.9 700.9,564.6 702.7,563.0 704.5,558.4 706.3,547.4 708.1,538.0 710.0,540.4 711.8,544.2 713.6,552.1 715.4,556.7 717.3,560.8 719.1,559.1 720.9,557.7 722.7,561.5 724.6,556.7 726.4,559.9 728.2,561.5 730.0,564.6 731.9,563.0 733.7,560.8 735.5,555.3 737.3,561.5 739.2,556.7 741.0,553.6 742.8,555.3 744.6,559.9 746.5,561.5 748.3,564.6 750.1,561.5 751.9,558.4 753.7,556.7 755.6,554.3 757.4,555.3 759.2,557.7 761.0,555.3 762.9,552.1 764.7,547.4 766.5,555.3 768.3,561.5 770.2,566.3 772.0,561.5 773.8,555.3 775.6,552.1 777.5,555.3 779.3,559.9 781.1,556.7 782.9,552.1 784.8,551.2 786.6,551.2 788.4,551.2 790.2,551.2 792.1,544.2 793.9,536.3 795.7,534.8 797.5,541.1 799.3,544.2 801.2,547.4 803.0,545.7 804.8,541.1 806.6,544.2 808.5,542.6 810.3,539.4 812.1,543.5 813.9,547.4 815.8,541.1 817.6,533.2 819.4,533.2 821.2,538.0 823.1,541.1 824.9,541.3" fill="none" stroke="#1f5189" stroke-width="1.5" stroke-linejoin="round" clip-path="url(#clipg)"/>
<polyline points="606.0,549.7 607.8,550.5 609.7,545.7 611.5,547.4 613.3,558.4 615.1,555.3 616.9,549.0 618.8,545.7 620.6,550.5 622.4,556.7 624.2,557.7 626.1,555.3 627.9,552.1 629.7,546.6 631.5,547.4 633.4,561.5 635.2,578.8 637.0,563.0 638.8,566.3 640.7,567.8 642.5,575.7 644.3,577.2 646.1,574.0 648.0,578.8 649.8,575.7 651.6,564.6 653.4,556.7 655.3,552.1 657.1,545.0 658.9,545.7 660.7,556.7 662.5,566.3 664.4,563.0 666.2,562.3 668.0,550.5 669.8,539.4 671.7,541.1 673.5,550.5 675.3,558.4 677.1,549.0 679.0,544.2 680.8,538.0 682.6,536.3 684.4,545.7 686.3,561.5 688.1,572.6 689.9,575.7 691.7,574.0 693.6,570.9 695.4,567.8 697.2,563.9 699.0,559.9 700.9,555.3 702.7,552.1 704.5,559.9 706.3,550.5 708.1,539.4 710.0,541.1 711.8,550.5 713.6,561.5 715.4,567.8 717.3,572.6 719.1,564.6 720.9,561.5 722.7,566.3 724.6,558.4 726.4,561.5 728.2,564.6 730.0,566.3 731.9,564.6 733.7,561.5 735.5,556.7 737.3,564.6 739.2,558.4 741.0,552.1 742.8,550.5 744.6,558.4 746.5,567.8 748.3,578.8 750.1,575.7 751.9,564.6 753.7,558.4 755.6,552.1 757.4,555.3 759.2,556.7 761.0,550.5 762.9,544.2 764.7,533.2 766.5,545.7 768.3,559.9 770.2,564.6 772.0,558.4 773.8,552.1 775.6,549.0 777.5,555.3 779.3,564.6 781.1,575.7 782.9,566.3 784.8,559.9 786.6,564.6 788.4,571.6 790.2,566.3 792.1,552.1 793.9,538.0 795.7,535.6 797.5,533.9 799.3,532.4 801.2,538.0 803.0,541.1 804.8,538.0 806.6,536.3 808.5,533.2 810.3,532.4 812.1,534.8 813.9,539.4 815.8,541.1 817.6,538.0 819.4,533.2 821.2,538.0 823.1,538.0 824.9,541.1" fill="none" stroke="#111" stroke-width="2.4" stroke-linejoin="round" clip-path="url(#clipg)"/>
<polyline points="606.0,555.3 607.8,556.7 609.7,558.4 611.5,561.5 613.3,564.6 615.1,563.0 616.9,569.4 618.8,575.7 620.6,572.6 622.4,567.8 624.2,566.3 626.1,564.6 627.9,563.0 629.7,561.5 631.5,559.9 633.4,558.4 635.2,567.8 637.0,566.3 638.8,564.6 640.7,563.0 642.5,564.6 644.3,561.5 646.1,563.0 648.0,564.6 649.8,566.3 651.6,561.5 653.4,558.4 655.3,556.7 657.1,558.4 658.9,557.7 660.7,559.1 662.5,558.4 664.4,557.7 666.2,555.3 668.0,550.5 669.8,544.2 671.7,545.7 673.5,549.0 675.3,550.5 677.1,549.0 679.0,542.6 680.8,538.7 682.6,538.0 684.4,544.2 686.3,553.6 688.1,561.5 689.9,558.4 691.7,552.9 693.6,550.5 695.4,551.2 697.2,552.1 699.0,559.9 700.9,564.6 702.7,563.0 704.5,558.4 706.3,547.4 708.1,538.0 710.0,540.4 711.8,544.2 713.6,552.1 715.4,556.7 717.3,560.8 719.1,559.1 720.9,557.7 722.7,561.5 724.6,556.7 726.4,559.9 728.2,561.5 730.0,564.6 731.9,563.0 733.7,560.8 735.5,555.3 737.3,561.5 739.2,556.7 741.0,553.6 742.8,555.3 744.6,559.9 746.5,561.5 748.3,564.6 750.1,561.5 751.9,558.4 753.7,556.7 755.6,554.3 757.4,555.3 759.2,557.7 761.0,555.3 762.9,552.1 764.7,547.4 766.5,555.3 768.3,561.5 770.2,566.3 772.0,561.5 773.8,555.3 775.6,552.1 777.5,555.3 779.3,559.9 781.1,556.7 782.9,552.1 784.8,551.2 786.6,551.2 788.4,551.2 790.2,551.2 792.1,544.2 793.9,536.3 795.7,534.8 797.5,541.1 799.3,544.2 801.2,547.4 803.0,545.7 804.8,541.1 806.6,544.2 808.5,542.6 810.3,539.4 812.1,543.5 813.9,547.4 815.8,541.1 817.6,533.2 819.4,533.2 821.2,538.0 823.1,541.1 824.9,541.3" fill="none" stroke="#1f5189" stroke-opacity="0.45" stroke-width="1.5" stroke-linejoin="round" clip-path="url(#clipg)"/>
<rect x="607" y="502" width="218.4" height="91.3" fill="none" stroke="#111" stroke-width="1.2"/>
<text x="604.2" y="596.3" font-family='"Liberation Sans", sans-serif' font-size="10" font-weight="bold" fill="#222" text-anchor="end" >−2</text>
<text x="604.2" y="577.9" font-family='"Liberation Sans", sans-serif' font-size="10" font-weight="bold" fill="#222" text-anchor="end" >−1</text>
<text x="604.2" y="559.5" font-family='"Liberation Sans", sans-serif' font-size="10" font-weight="bold" fill="#222" text-anchor="end" >0</text>
<text x="604.2" y="541.1" font-family='"Liberation Sans", sans-serif' font-size="10" font-weight="bold" fill="#222" text-anchor="end" >1</text>
<text x="604.2" y="522.7" font-family='"Liberation Sans", sans-serif' font-size="10" font-weight="bold" fill="#222" text-anchor="end" >2</text>
<text x="613.3" y="604.6" font-family='"Liberation Sans", sans-serif' font-size="10" font-weight="bold" fill="#222" text-anchor="middle" textLength="21.6" lengthAdjust="spacingAndGlyphs" >1900</text>
<text x="649.8" y="604.6" font-family='"Liberation Sans", sans-serif' font-size="10" font-weight="bold" fill="#222" text-anchor="middle" textLength="21.6" lengthAdjust="spacingAndGlyphs" >1920</text>
<text x="686.3" y="604.6" font-family='"Liberation Sans", sans-serif' font-size="10" font-weight="bold" fill="#222" text-anchor="middle" textLength="21.6" lengthAdjust="spacingAndGlyphs" >1940</text>
<text x="722.7" y="604.6" font-family='"Liberation Sans", sans-serif' font-size="10" font-weight="bold" fill="#222" text-anchor="middle" textLength="21.6" lengthAdjust="spacingAndGlyphs" >1960</text>
<text x="759.2" y="604.6" font-family='"Liberation Sans", sans-serif' font-size="10" font-weight="bold" fill="#222" text-anchor="middle" textLength="21.6" lengthAdjust="spacingAndGlyphs" >1980</text>
<text x="795.7" y="604.6" font-family='"Liberation Sans", sans-serif' font-size="10" font-weight="bold" fill="#222" text-anchor="middle" textLength="21.6" lengthAdjust="spacingAndGlyphs" >2000</text>
<text x="587.2" y="547.6" transform="rotate(-90 587.2 547.6)" font-family='"Liberation Sans", sans-serif' font-size="10.5" font-weight="bold" fill="#222" text-anchor="middle">°C</text>
<text x="716.2" y="495.0" font-family='"Liberation Sans", sans-serif' font-size="10.3" font-weight="bold" fill="#1a1a1a" text-anchor="middle" textLength="59.8" lengthAdjust="spacingAndGlyphs" >Grand Banks</text>
<text x="585.6" y="497.5" font-family='"Liberation Sans", sans-serif' font-size="14.5" font-weight="bold" fill="#111" text-anchor="start" >(g)</text>
<rect x="688.8" y="503.5" width="74.5" height="29.7" fill="#fff" stroke="#222" stroke-width="1"/>
<line x1="692.6" y1="511.7" x2="713.6" y2="511.7" stroke="#111" stroke-width="2.2"/>
<line x1="692.6" y1="525.1" x2="713.6" y2="525.1" stroke="#1f5189" stroke-width="1.3"/>
<text x="716.2" y="515.6" font-family='"Liberation Sans", sans-serif' font-size="10.3" font-weight="normal" fill="#111" text-anchor="start" textLength="22.2" lengthAdjust="spacingAndGlyphs" >BINS</text>
<text x="716.2" y="528.9" font-family='"Liberation Sans", sans-serif' font-size="10.3" font-weight="normal" fill="#111" text-anchor="start" textLength="42.2" lengthAdjust="spacingAndGlyphs" >HadSST3</text>
<clipPath id="cliph"><rect x="872.7" y="502" width="218.5" height="91.29999999999995"/></clipPath>
<line x1="879.5" y1="502" x2="879.5" y2="593.3" stroke="#333" stroke-width="1" stroke-dasharray="1.2,2.4"/>
<line x1="916.1" y1="502" x2="916.1" y2="593.3" stroke="#333" stroke-width="1" stroke-dasharray="1.2,2.4"/>
<line x1="952.8" y1="502" x2="952.8" y2="593.3" stroke="#333" stroke-width="1" stroke-dasharray="1.2,2.4"/>
<line x1="989.4" y1="502" x2="989.4" y2="593.3" stroke="#333" stroke-width="1" stroke-dasharray="1.2,2.4"/>
<line x1="1026.1" y1="502" x2="1026.1" y2="593.3" stroke="#333" stroke-width="1" stroke-dasharray="1.2,2.4"/>
<line x1="1062.7" y1="502" x2="1062.7" y2="593.3" stroke="#333" stroke-width="1" stroke-dasharray="1.2,2.4"/>
<line x1="872.7" y1="583.8" x2="1091.2" y2="583.8" stroke="#333" stroke-width="1" stroke-dasharray="1.2,2.4"/>
<line x1="872.7" y1="520.8" x2="1091.2" y2="520.8" stroke="#333" stroke-width="1" stroke-dasharray="1.2,2.4"/>
<polygon points="872.2,539.7 874.0,544.4 875.8,541.3 877.7,538.1 879.5,546.0 881.3,556.7 883.2,569.0 885.0,578.1 886.8,577.8 888.7,569.6 890.5,561.6 892.3,558.3 894.2,556.6 896.0,554.9 897.8,558.0 899.7,561.3 901.5,558.3 903.3,560.0 905.1,561.8 907.0,563.3 908.8,558.6 910.6,561.8 912.5,564.9 914.3,560.2 916.1,552.3 918.0,548.4 919.8,555.4 921.6,563.3 923.5,569.6 925.3,571.2 927.1,563.3 929.0,557.0 930.8,553.9 932.6,553.2 934.5,552.3 936.3,549.1 938.1,542.8 940.0,539.7 941.8,540.6 943.6,548.0 945.5,557.0 947.3,547.2 949.1,540.5 950.9,535.4 952.8,531.8 954.6,520.8 956.4,522.4 958.3,523.0 960.1,523.9 961.9,524.6 963.8,512.1 965.6,509.8 967.4,539.7 969.3,548.4 971.1,547.6 972.9,544.4 974.8,555.5 976.6,550.7 978.4,546.0 980.3,544.4 982.1,546.0 983.9,547.6 985.8,546.0 987.6,542.9 989.4,545.1 991.3,552.4 993.1,557.1 994.9,560.2 996.7,558.7 998.6,555.5 1000.4,557.1 1002.2,559.6 1004.1,558.1 1005.9,555.5 1007.7,557.1 1009.6,560.3 1011.4,558.7 1013.2,561.9 1015.1,560.3 1016.9,561.9 1018.7,560.3 1020.6,558.7 1022.4,555.6 1024.2,552.4 1026.1,550.9 1027.9,552.4 1029.7,555.0 1031.6,554.0 1033.4,551.8 1035.2,554.0 1037.1,556.6 1038.9,547.8 1040.7,541.5 1042.5,536.7 1044.4,535.8 1046.2,543.0 1048.0,552.5 1049.9,560.4 1051.7,557.2 1053.5,544.6 1055.4,538.3 1057.2,533.6 1059.0,527.3 1060.9,524.2 1062.7,528.0 1064.5,536.8 1066.4,541.5 1068.2,539.0 1070.0,536.8 1071.9,535.2 1073.7,535.9 1075.5,537.5 1077.4,540.0 1079.2,542.2 1081.0,542.2 1082.9,542.2 1084.7,543.1 1086.5,542.2 1088.3,544.7 1090.2,547.9 1092.0,549.5 1092.0,552.0 1090.2,550.4 1088.3,547.3 1086.5,544.8 1084.7,545.7 1082.9,544.8 1081.0,544.8 1079.2,544.8 1077.4,542.6 1075.5,540.1 1073.7,538.5 1071.9,537.9 1070.0,539.4 1068.2,541.7 1066.4,544.2 1064.5,539.5 1062.7,530.6 1060.9,526.9 1059.0,530.0 1057.2,536.3 1055.4,541.1 1053.5,547.4 1051.7,560.0 1049.9,563.1 1048.0,555.2 1046.2,545.8 1044.4,538.6 1042.5,539.5 1040.7,544.2 1038.9,550.5 1037.1,559.4 1035.2,556.9 1033.4,554.7 1031.6,556.9 1029.7,557.8 1027.9,555.3 1026.1,553.7 1024.2,555.3 1022.4,558.5 1020.6,561.6 1018.7,563.2 1016.9,564.8 1015.1,563.2 1013.2,564.8 1011.4,561.6 1009.6,563.2 1007.7,560.1 1005.9,558.5 1004.1,561.0 1002.2,562.6 1000.4,560.1 998.6,558.5 996.7,561.7 994.9,563.3 993.1,560.1 991.3,555.4 989.4,548.2 987.6,546.0 985.8,549.1 983.9,550.7 982.1,549.1 980.3,547.6 978.4,549.1 976.6,553.9 974.8,558.6 972.9,547.6 971.1,550.7 969.3,553.1 967.4,546.0 965.6,538.1 963.8,542.1 961.9,556.1 960.1,555.4 958.3,554.5 956.4,553.9 954.6,552.3 952.8,538.1 950.9,540.9 949.1,545.2 947.3,551.1 945.5,560.2 943.6,553.4 941.8,548.2 940.0,542.8 938.1,546.0 936.3,552.3 934.5,555.4 932.6,556.4 930.8,557.0 929.0,560.2 927.1,566.5 925.3,574.3 923.5,572.8 921.6,566.5 919.8,558.6 918.0,553.1 916.1,558.6 914.3,572.8 912.5,583.8 910.6,577.5 908.8,571.2 907.0,572.8 905.1,568.0 903.3,566.6 901.5,565.2 899.7,568.5 897.8,565.5 896.0,562.3 894.2,563.7 892.3,565.2 890.5,568.2 888.7,575.9 886.8,583.5 885.0,583.2 883.2,573.4 881.3,560.5 879.5,549.1 877.7,544.4 875.8,550.7 874.0,557.0 872.2,555.4" fill="#ababab" clip-path="url(#cliph)"/>
<line x1="872.7" y1="552.3" x2="1091.2" y2="552.3" stroke="#222" stroke-width="1"/>
<polyline points="872.2,546.0 874.0,549.1 875.8,552.3 877.7,542.8 879.5,549.1 881.3,558.6 883.2,568.0 885.0,575.9 886.8,575.9 888.7,569.6 890.5,563.3 892.3,560.2 894.2,559.5 896.0,558.6 897.8,564.9 899.7,568.0 901.5,572.8 903.3,574.3 905.1,569.6 907.0,558.6 908.8,550.7 910.6,557.0 912.5,560.2 914.3,555.4 916.1,553.9 918.0,552.3 919.8,557.0 921.6,561.8 923.5,566.5 925.3,569.6 927.1,563.3 929.0,555.4 930.8,553.2 932.6,553.9 934.5,557.0 936.3,555.4 938.1,547.6 940.0,546.0 941.8,550.7 943.6,557.0 945.5,557.0 947.3,547.6 949.1,544.4 950.9,541.3 952.8,542.8 954.6,544.4 956.4,546.0 958.3,544.4 960.1,543.5 961.9,546.0 963.8,550.7 965.6,552.3 967.4,541.9 969.3,539.7 971.1,547.6 972.9,550.7 974.8,552.3 976.6,547.6 978.4,544.4 980.3,542.8 982.1,546.0 983.9,547.6 985.8,546.0 987.6,546.0 989.4,547.6 991.3,553.9 993.1,557.0 994.9,560.2 996.7,558.6 998.6,558.0 1000.4,559.5 1002.2,558.6 1004.1,558.6 1005.9,558.0 1007.7,559.5 1009.6,561.1 1011.4,561.8 1013.2,564.9 1015.1,566.5 1016.9,564.9 1018.7,564.3 1020.6,561.8 1022.4,559.5 1024.2,555.4 1026.1,553.2 1027.9,553.9 1029.7,556.4 1031.6,555.4 1033.4,553.2 1035.2,555.4 1037.1,560.2 1038.9,550.7 1040.7,541.3 1042.5,536.5 1044.4,536.5 1046.2,546.0 1048.0,552.3 1049.9,557.0 1051.7,552.3 1053.5,544.4 1055.4,538.1 1057.2,535.0 1059.0,533.4 1060.9,534.0 1062.7,538.1 1064.5,543.5 1066.4,542.8 1068.2,539.7 1070.0,535.0 1071.9,530.2 1073.7,530.9 1075.5,534.0 1077.4,537.2 1079.2,539.7 1081.0,540.3 1082.9,540.3 1084.7,539.7 1086.5,539.7 1088.3,541.3 1090.2,546.0 1092.0,549.1" fill="none" stroke="#1f5189" stroke-width="1.5" stroke-linejoin="round" clip-path="url(#cliph)"/>
<polyline points="872.2,547.6 874.0,550.7 875.8,546.0 877.7,541.3 879.5,547.6 881.3,558.6 883.2,571.2 885.0,580.6 886.8,580.6 888.7,572.8 890.5,564.9 892.3,561.8 894.2,560.2 896.0,558.6 897.8,561.8 899.7,564.9 901.5,561.8 903.3,563.3 905.1,564.9 907.0,568.0 908.8,564.9 910.6,569.6 912.5,574.3 914.3,566.5 916.1,555.4 918.0,550.7 919.8,557.0 921.6,564.9 923.5,571.2 925.3,572.8 927.1,564.9 929.0,558.6 930.8,555.4 932.6,554.8 934.5,553.9 936.3,550.7 938.1,544.4 940.0,541.3 941.8,544.4 943.6,550.7 945.5,558.6 947.3,549.1 949.1,542.8 950.9,538.1 952.8,535.0 954.6,536.5 956.4,538.1 958.3,538.8 960.1,539.7 961.9,540.3 963.8,527.1 965.6,523.9 967.4,542.8 969.3,550.7 971.1,549.1 972.9,546.0 974.8,557.0 976.6,552.3 978.4,547.6 980.3,546.0 982.1,547.6 983.9,549.1 985.8,547.6 987.6,544.4 989.4,546.6 991.3,553.9 993.1,558.6 994.9,561.8 996.7,560.2 998.6,557.0 1000.4,558.6 1002.2,561.1 1004.1,559.5 1005.9,557.0 1007.7,558.6 1009.6,561.8 1011.4,560.2 1013.2,563.3 1015.1,561.8 1016.9,563.3 1018.7,561.8 1020.6,560.2 1022.4,557.0 1024.2,553.9 1026.1,552.3 1027.9,553.9 1029.7,556.4 1031.6,555.4 1033.4,553.2 1035.2,555.4 1037.1,558.0 1038.9,549.1 1040.7,542.8 1042.5,538.1 1044.4,537.2 1046.2,544.4 1048.0,553.9 1049.9,561.8 1051.7,558.6 1053.5,546.0 1055.4,539.7 1057.2,535.0 1059.0,528.7 1060.9,525.5 1062.7,529.3 1064.5,538.1 1066.4,542.8 1068.2,540.3 1070.0,538.1 1071.9,536.5 1073.7,537.2 1075.5,538.8 1077.4,541.3 1079.2,543.5 1081.0,543.5 1082.9,543.5 1084.7,544.4 1086.5,543.5 1088.3,546.0 1090.2,549.1 1092.0,550.7" fill="none" stroke="#111" stroke-width="2.4" stroke-linejoin="round" clip-path="url(#cliph)"/>
<polyline points="872.2,546.0 874.0,549.1 875.8,552.3 877.7,542.8 879.5,549.1 881.3,558.6 883.2,568.0 885.0,575.9 886.8,575.9 888.7,569.6 890.5,563.3 892.3,560.2 894.2,559.5 896.0,558.6 897.8,564.9 899.7,568.0 901.5,572.8 903.3,574.3 905.1,569.6 907.0,558.6 908.8,550.7 910.6,557.0 912.5,560.2 914.3,555.4 916.1,553.9 918.0,552.3 919.8,557.0 921.6,561.8 923.5,566.5 925.3,569.6 927.1,563.3 929.0,555.4 930.8,553.2 932.6,553.9 934.5,557.0 936.3,555.4 938.1,547.6 940.0,546.0 941.8,550.7 943.6,557.0 945.5,557.0 947.3,547.6 949.1,544.4 950.9,541.3 952.8,542.8 954.6,544.4 956.4,546.0 958.3,544.4 960.1,543.5 961.9,546.0 963.8,550.7 965.6,552.3 967.4,541.9 969.3,539.7 971.1,547.6 972.9,550.7 974.8,552.3 976.6,547.6 978.4,544.4 980.3,542.8 982.1,546.0 983.9,547.6 985.8,546.0 987.6,546.0 989.4,547.6 991.3,553.9 993.1,557.0 994.9,560.2 996.7,558.6 998.6,558.0 1000.4,559.5 1002.2,558.6 1004.1,558.6 1005.9,558.0 1007.7,559.5 1009.6,561.1 1011.4,561.8 1013.2,564.9 1015.1,566.5 1016.9,564.9 1018.7,564.3 1020.6,561.8 1022.4,559.5 1024.2,555.4 1026.1,553.2 1027.9,553.9 1029.7,556.4 1031.6,555.4 1033.4,553.2 1035.2,555.4 1037.1,560.2 1038.9,550.7 1040.7,541.3 1042.5,536.5 1044.4,536.5 1046.2,546.0 1048.0,552.3 1049.9,557.0 1051.7,552.3 1053.5,544.4 1055.4,538.1 1057.2,535.0 1059.0,533.4 1060.9,534.0 1062.7,538.1 1064.5,543.5 1066.4,542.8 1068.2,539.7 1070.0,535.0 1071.9,530.2 1073.7,530.9 1075.5,534.0 1077.4,537.2 1079.2,539.7 1081.0,540.3 1082.9,540.3 1084.7,539.7 1086.5,539.7 1088.3,541.3 1090.2,546.0 1092.0,549.1" fill="none" stroke="#1f5189" stroke-opacity="0.45" stroke-width="1.5" stroke-linejoin="round" clip-path="url(#cliph)"/>
<rect x="872.7" y="502" width="218.5" height="91.3" fill="none" stroke="#111" stroke-width="1.2"/>
<text x="869.9" y="587.3" font-family='"Liberation Sans", sans-serif' font-size="10" font-weight="bold" fill="#222" text-anchor="end" >−1</text>
<text x="869.9" y="555.8" font-family='"Liberation Sans", sans-serif' font-size="10" font-weight="bold" fill="#222" text-anchor="end" >0</text>
<text x="869.9" y="524.3" font-family='"Liberation Sans", sans-serif' font-size="10" font-weight="bold" fill="#222" text-anchor="end" >1</text>
<text x="879.5" y="604.6" font-family='"Liberation Sans", sans-serif' font-size="10" font-weight="bold" fill="#222" text-anchor="middle" textLength="21.6" lengthAdjust="spacingAndGlyphs" >1900</text>
<text x="916.1" y="604.6" font-family='"Liberation Sans", sans-serif' font-size="10" font-weight="bold" fill="#222" text-anchor="middle" textLength="21.6" lengthAdjust="spacingAndGlyphs" >1920</text>
<text x="952.8" y="604.6" font-family='"Liberation Sans", sans-serif' font-size="10" font-weight="bold" fill="#222" text-anchor="middle" textLength="21.6" lengthAdjust="spacingAndGlyphs" >1940</text>
<text x="989.4" y="604.6" font-family='"Liberation Sans", sans-serif' font-size="10" font-weight="bold" fill="#222" text-anchor="middle" textLength="21.6" lengthAdjust="spacingAndGlyphs" >1960</text>
<text x="1026.1" y="604.6" font-family='"Liberation Sans", sans-serif' font-size="10" font-weight="bold" fill="#222" text-anchor="middle" textLength="21.6" lengthAdjust="spacingAndGlyphs" >1980</text>
<text x="1062.7" y="604.6" font-family='"Liberation Sans", sans-serif' font-size="10" font-weight="bold" fill="#222" text-anchor="middle" textLength="21.6" lengthAdjust="spacingAndGlyphs" >2000</text>
<text x="852.9" y="547.6" transform="rotate(-90 852.9 547.6)" font-family='"Liberation Sans", sans-serif' font-size="10.5" font-weight="bold" fill="#222" text-anchor="middle">°C</text>
<text x="982.0" y="495.0" font-family='"Liberation Sans", sans-serif' font-size="10.3" font-weight="bold" fill="#1a1a1a" text-anchor="middle" textLength="57.8" lengthAdjust="spacingAndGlyphs" >East Atlantic</text>
<text x="843.8" y="497.5" font-family='"Liberation Sans", sans-serif' font-size="14.5" font-weight="bold" fill="#111" text-anchor="start" >(h)</text>
<rect x="874" y="503.5" width="74.5" height="29.7" fill="#fff" stroke="#222" stroke-width="1"/>
<line x1="877.8" y1="511.7" x2="898.8" y2="511.7" stroke="#111" stroke-width="2.2"/>
<line x1="877.8" y1="525.1" x2="898.8" y2="525.1" stroke="#1f5189" stroke-width="1.3"/>
<text x="901.4" y="515.6" font-family='"Liberation Sans", sans-serif' font-size="10.3" font-weight="normal" fill="#111" text-anchor="start" textLength="22.2" lengthAdjust="spacingAndGlyphs" >BINS</text>
<text x="901.4" y="528.9" font-family='"Liberation Sans", sans-serif' font-size="10.3" font-weight="normal" fill="#111" text-anchor="start" textLength="42.2" lengthAdjust="spacingAndGlyphs" >HadSST3</text>
<text x="575.4" y="289.2" font-family='"Liberation Serif", serif' font-size="10.2" font-weight="normal" fill="#111" text-anchor="start" textLength="512.3" lengthAdjust="spacingAndGlyphs" stroke="#111" stroke-width="0.35" >We present a binned annual product (BINS) of sea surface temperature (SST), sea surface salinity (SSS), and sea surface density</text>
<text x="575.4" y="302.5" font-family='"Liberation Serif", serif' font-size="10.2" font-weight="normal" fill="#111" text-anchor="start" textLength="515.3" lengthAdjust="spacingAndGlyphs" stroke="#111" stroke-width="0.35" >(SSD) observations for 1896–2015 of the subpolar North Atlantic between 40° N and 70° N, mostly excluding the shelf areas.</text>
<text x="1089.0" y="315.5" font-family='"Liberation Serif", serif' font-size="10.2" font-weight="normal" fill="#111" text-anchor="end" textLength="80.0" lengthAdjust="spacingAndGlyphs" stroke="#111" stroke-width="0.35" >Reverdin et al., 2018</text>
</svg></body></html>
